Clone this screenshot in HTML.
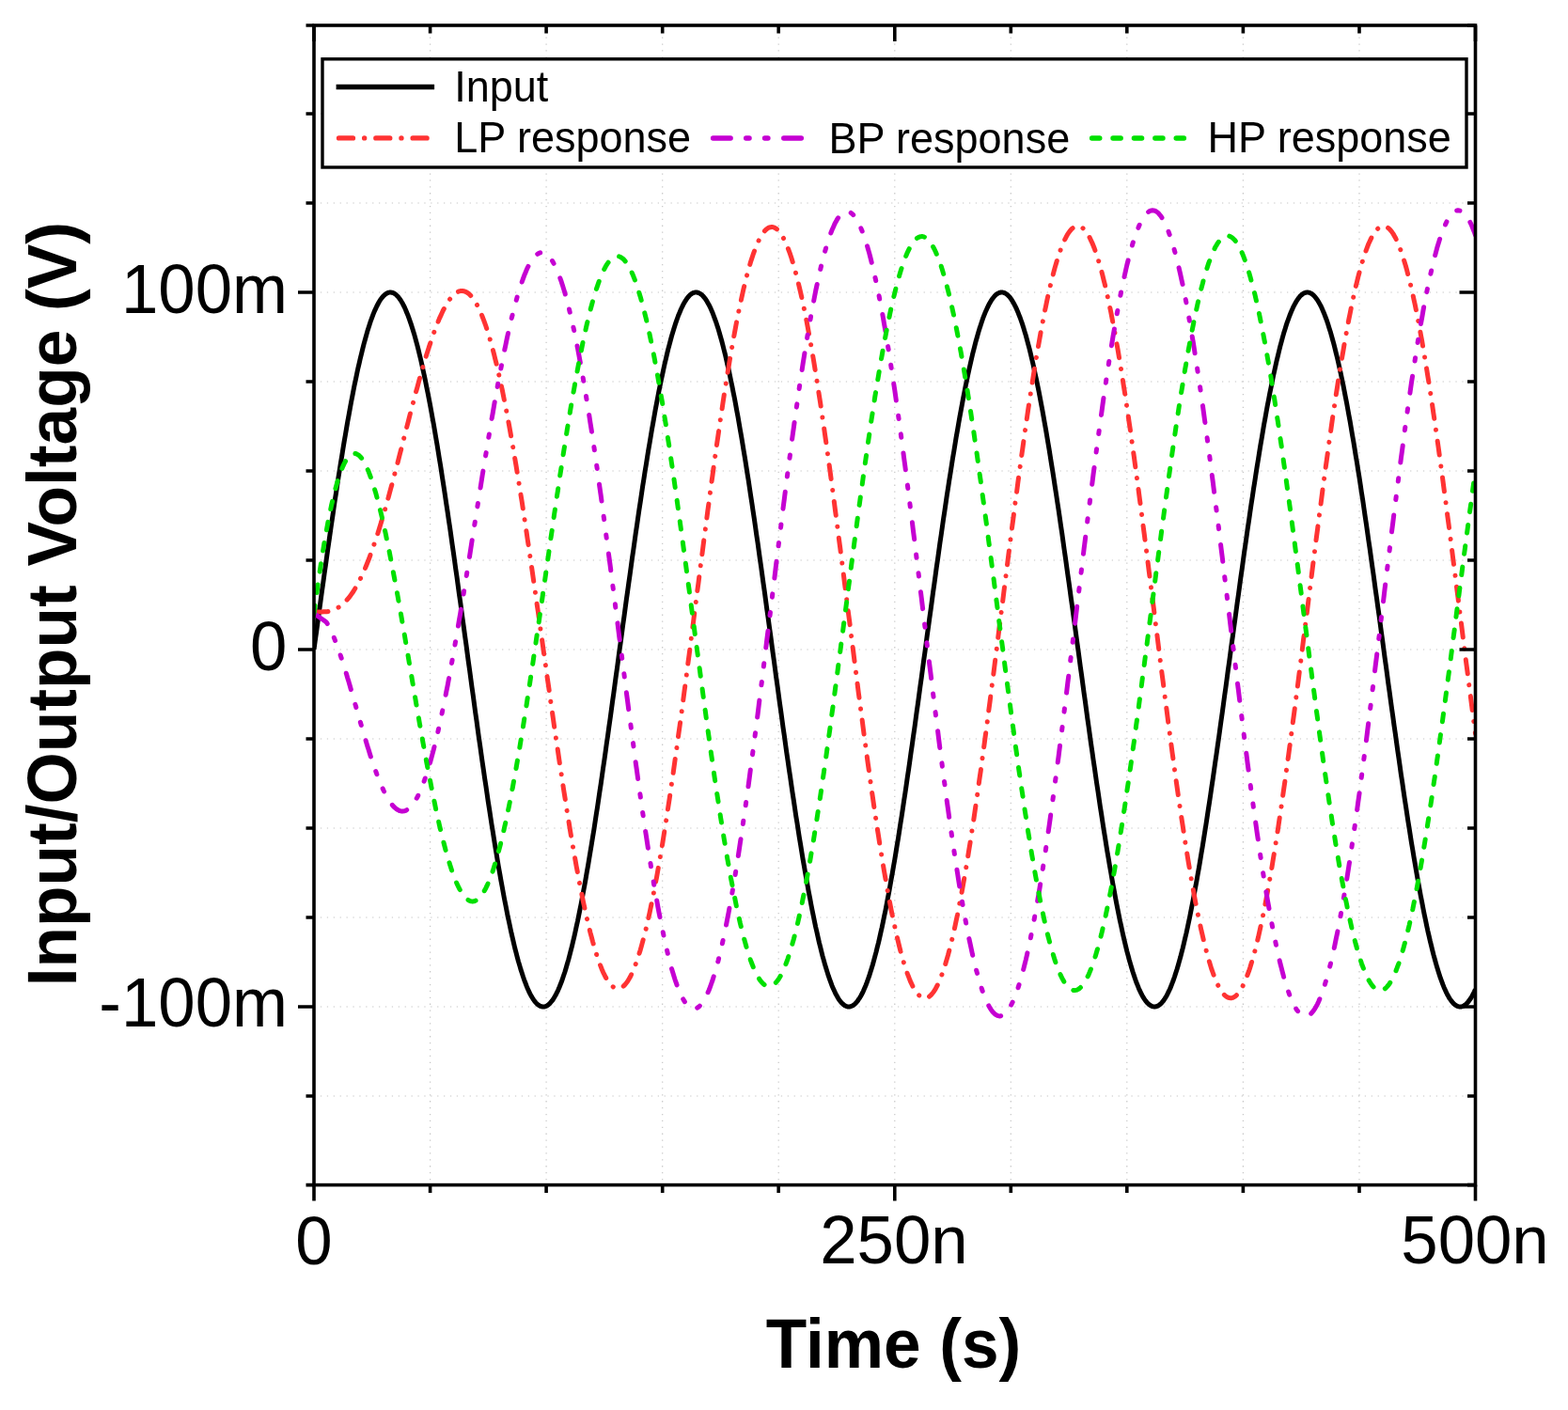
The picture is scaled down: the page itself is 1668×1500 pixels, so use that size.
<!DOCTYPE html>
<html><head><meta charset="utf-8"><style>html,body{margin:0;padding:0;background:#fff}svg{display:block}</style></head><body>
<svg width="1668" height="1500" viewBox="0 0 1668 1500">
<rect width="1668" height="1500" fill="#fff"/>
<defs><clipPath id="pc"><rect x="334.0" y="25.7" width="1235.5" height="1234.9"/></clipPath></defs>
<path d="M457.6 25.7V1260.6M581.1 25.7V1260.6M704.7 25.7V1260.6M828.2 25.7V1260.6M951.8 25.7V1260.6M1075.3 25.7V1260.6M1198.8 25.7V1260.6M1322.4 25.7V1260.6M1446.0 25.7V1260.6M334.0 1166.0H1569.5M334.0 1071.0H1569.5M334.0 976.0H1569.5M334.0 881.0H1569.5M334.0 786.0H1569.5M334.0 691.0H1569.5M334.0 596.0H1569.5M334.0 501.0H1569.5M334.0 406.0H1569.5M334.0 311.0H1569.5M334.0 216.0H1569.5M334.0 121.0H1569.5" stroke="#c6c6c6" stroke-width="1.2" stroke-dasharray="1.3 5.6" fill="none"/>
<g clip-path="url(#pc)" fill="none" stroke-width="5" stroke-linejoin="round">
<path d="M334.0,691.0 L335.2,681.9 L336.5,672.9 L337.7,663.8 L338.9,654.8 L340.2,645.7 L341.4,636.7 L342.6,627.8 L343.9,618.9 L345.1,610.0 L346.4,601.1 L347.6,592.3 L348.8,583.6 L350.1,574.9 L351.3,566.3 L352.5,557.8 L353.8,549.3 L355.0,541.0 L356.2,532.7 L357.5,524.5 L358.7,516.4 L359.9,508.4 L361.2,500.4 L362.4,492.7 L363.7,485.0 L364.9,477.4 L366.1,470.0 L367.4,462.6 L368.6,455.5 L369.8,448.4 L371.1,441.5 L372.3,434.7 L373.5,428.1 L374.8,421.6 L376.0,415.3 L377.2,409.1 L378.5,403.1 L379.7,397.3 L380.9,391.6 L382.2,386.1 L383.4,380.8 L384.7,375.6 L385.9,370.7 L387.1,365.9 L388.4,361.3 L389.6,356.9 L390.8,352.6 L392.1,348.6 L393.3,344.8 L394.5,341.1 L395.8,337.7 L397.0,334.4 L398.2,331.4 L399.5,328.6 L400.7,326.0 L402.0,323.5 L403.2,321.3 L404.4,319.3 L405.7,317.6 L406.9,316.0 L408.1,314.6 L409.4,313.5 L410.6,312.6 L411.8,311.8 L413.1,311.3 L414.3,311.1 L415.5,311.0 L416.8,311.2 L418.0,311.5 L419.2,312.1 L420.5,312.9 L421.7,313.9 L423.0,315.2 L424.2,316.6 L425.4,318.3 L426.7,320.2 L427.9,322.2 L429.1,324.5 L430.4,327.0 L431.6,329.7 L432.8,332.7 L434.1,335.8 L435.3,339.1 L436.5,342.6 L437.8,346.4 L439.0,350.3 L440.3,354.4 L441.5,358.7 L442.7,363.2 L444.0,367.9 L445.2,372.7 L446.4,377.8 L447.7,383.0 L448.9,388.4 L450.1,394.0 L451.4,399.7 L452.6,405.6 L453.8,411.7 L455.1,417.9 L456.3,424.3 L457.6,430.9 L458.8,437.6 L460.0,444.4 L461.3,451.4 L462.5,458.5 L463.7,465.7 L465.0,473.1 L466.2,480.6 L467.4,488.2 L468.7,495.9 L469.9,503.8 L471.1,511.7 L472.4,519.8 L473.6,527.9 L474.8,536.1 L476.1,544.5 L477.3,552.9 L478.6,561.4 L479.8,569.9 L481.0,578.6 L482.3,587.3 L483.5,596.0 L484.7,604.8 L486.0,613.7 L487.2,622.6 L488.4,631.6 L489.7,640.5 L490.9,649.5 L492.1,658.6 L493.4,667.6 L494.6,676.7 L495.9,685.7 L497.1,694.8 L498.3,703.9 L499.6,713.0 L500.8,722.0 L502.0,731.0 L503.3,740.0 L504.5,749.0 L505.7,758.0 L507.0,766.9 L508.2,775.8 L509.4,784.6 L510.7,793.3 L511.9,802.1 L513.1,810.7 L514.4,819.3 L515.6,827.8 L516.9,836.2 L518.1,844.5 L519.3,852.8 L520.6,861.0 L521.8,869.0 L523.0,877.0 L524.3,884.8 L525.5,892.6 L526.7,900.2 L528.0,907.7 L529.2,915.1 L530.4,922.4 L531.7,929.5 L532.9,936.5 L534.2,943.4 L535.4,950.1 L536.6,956.6 L537.9,963.1 L539.1,969.3 L540.3,975.4 L541.6,981.3 L542.8,987.1 L544.0,992.7 L545.3,998.1 L546.5,1003.4 L547.7,1008.5 L549.0,1013.4 L550.2,1018.1 L551.4,1022.6 L552.7,1026.9 L553.9,1031.1 L555.2,1035.0 L556.4,1038.8 L557.6,1042.3 L558.9,1045.7 L560.1,1048.9 L561.3,1051.8 L562.6,1054.6 L563.8,1057.1 L565.0,1059.4 L566.3,1061.5 L567.5,1063.4 L568.7,1065.1 L570.0,1066.6 L571.2,1067.9 L572.5,1068.9 L573.7,1069.8 L574.9,1070.4 L576.2,1070.8 L577.4,1071.0 L578.6,1071.0 L579.9,1070.7 L581.1,1070.3 L582.3,1069.6 L583.6,1068.7 L584.8,1067.6 L586.0,1066.2 L587.3,1064.7 L588.5,1063.0 L589.7,1061.0 L591.0,1058.8 L592.2,1056.4 L593.5,1053.8 L594.7,1051.1 L595.9,1048.0 L597.2,1044.8 L598.4,1041.4 L599.6,1037.8 L600.9,1034.0 L602.1,1030.0 L603.3,1025.8 L604.6,1021.4 L605.8,1016.9 L607.0,1012.1 L608.3,1007.2 L609.5,1002.0 L610.8,996.7 L612.0,991.3 L613.2,985.6 L614.5,979.8 L615.7,973.8 L616.9,967.7 L618.2,961.4 L619.4,954.9 L620.6,948.3 L621.9,941.6 L623.1,934.7 L624.3,927.7 L625.6,920.5 L626.8,913.2 L628.0,905.8 L629.3,898.2 L630.5,890.6 L631.8,882.8 L633.0,874.9 L634.2,866.9 L635.5,858.8 L636.7,850.6 L637.9,842.4 L639.2,834.0 L640.4,825.5 L641.6,817.0 L642.9,808.4 L644.1,799.8 L645.3,791.0 L646.6,782.3 L647.8,773.4 L649.1,764.5 L650.3,755.6 L651.5,746.7 L652.8,737.7 L654.0,728.7 L655.2,719.6 L656.5,710.6 L657.7,701.5 L658.9,692.4 L660.2,683.4 L661.4,674.3 L662.6,665.2 L663.9,656.2 L665.1,647.2 L666.3,638.2 L667.6,629.2 L668.8,620.3 L670.1,611.4 L671.3,602.5 L672.5,593.7 L673.8,585.0 L675.0,576.3 L676.2,567.7 L677.5,559.1 L678.7,550.7 L679.9,542.3 L681.2,534.0 L682.4,525.8 L683.6,517.6 L684.9,509.6 L686.1,501.7 L687.4,493.9 L688.6,486.2 L689.8,478.6 L691.1,471.1 L692.3,463.8 L693.5,456.6 L694.8,449.5 L696.0,442.6 L697.2,435.8 L698.5,429.1 L699.7,422.6 L700.9,416.3 L702.2,410.1 L703.4,404.1 L704.7,398.2 L705.9,392.5 L707.1,387.0 L708.4,381.6 L709.6,376.4 L710.8,371.4 L712.1,366.6 L713.3,362.0 L714.5,357.5 L715.8,353.3 L717.0,349.2 L718.2,345.4 L719.5,341.7 L720.7,338.2 L721.9,334.9 L723.2,331.9 L724.4,329.0 L725.7,326.4 L726.9,323.9 L728.1,321.7 L729.4,319.6 L730.6,317.8 L731.8,316.2 L733.1,314.8 L734.3,313.6 L735.5,312.7 L736.8,311.9 L738.0,311.4 L739.2,311.1 L740.5,311.0 L741.7,311.1 L743.0,311.5 L744.2,312.0 L745.4,312.8 L746.7,313.8 L747.9,315.0 L749.1,316.4 L750.4,318.0 L751.6,319.8 L752.8,321.9 L754.1,324.2 L755.3,326.6 L756.5,329.3 L757.8,332.2 L759.0,335.3 L760.2,338.6 L761.5,342.1 L762.7,345.8 L764.0,349.6 L765.2,353.7 L766.4,358.0 L767.7,362.5 L768.9,367.1 L770.1,372.0 L771.4,377.0 L772.6,382.2 L773.8,387.6 L775.1,393.1 L776.3,398.8 L777.5,404.7 L778.8,410.7 L780.0,417.0 L781.3,423.3 L782.5,429.8 L783.7,436.5 L785.0,443.3 L786.2,450.3 L787.4,457.3 L788.7,464.6 L789.9,471.9 L791.1,479.4 L792.4,487.0 L793.6,494.7 L794.8,502.5 L796.1,510.4 L797.3,518.5 L798.5,526.6 L799.8,534.8 L801.0,543.2 L802.3,551.6 L803.5,560.0 L804.7,568.6 L806.0,577.2 L807.2,585.9 L808.4,594.6 L809.7,603.5 L810.9,612.3 L812.1,621.2 L813.4,630.1 L814.6,639.1 L815.8,648.1 L817.1,657.1 L818.3,666.2 L819.6,675.2 L820.8,684.3 L822.0,693.4 L823.3,702.5 L824.5,711.5 L825.7,720.6 L827.0,729.6 L828.2,738.6 L829.4,747.6 L830.7,756.6 L831.9,765.5 L833.1,774.4 L834.4,783.2 L835.6,792.0 L836.8,800.7 L838.1,809.3 L839.3,817.9 L840.6,826.4 L841.8,834.9 L843.0,843.2 L844.3,851.5 L845.5,859.7 L846.7,867.8 L848.0,875.7 L849.2,883.6 L850.4,891.4 L851.7,899.0 L852.9,906.6 L854.1,914.0 L855.4,921.3 L856.6,928.4 L857.9,935.4 L859.1,942.3 L860.3,949.0 L861.6,955.6 L862.8,962.1 L864.0,968.3 L865.3,974.5 L866.5,980.4 L867.7,986.2 L869.0,991.8 L870.2,997.3 L871.4,1002.6 L872.7,1007.7 L873.9,1012.6 L875.1,1017.4 L876.4,1021.9 L877.6,1026.3 L878.9,1030.4 L880.1,1034.4 L881.3,1038.2 L882.6,1041.8 L883.8,1045.2 L885.0,1048.4 L886.3,1051.4 L887.5,1054.1 L888.7,1056.7 L890.0,1059.1 L891.2,1061.2 L892.4,1063.2 L893.7,1064.9 L894.9,1066.4 L896.2,1067.7 L897.4,1068.8 L898.6,1069.7 L899.9,1070.3 L901.1,1070.7 L902.3,1071.0 L903.6,1071.0 L904.8,1070.8 L906.0,1070.3 L907.3,1069.7 L908.5,1068.8 L909.7,1067.8 L911.0,1066.5 L912.2,1065.0 L913.4,1063.2 L914.7,1061.3 L915.9,1059.2 L917.2,1056.8 L918.4,1054.3 L919.6,1051.5 L920.9,1048.5 L922.1,1045.4 L923.3,1042.0 L924.6,1038.4 L925.8,1034.6 L927.0,1030.7 L928.3,1026.5 L929.5,1022.1 L930.7,1017.6 L932.0,1012.9 L933.2,1007.9 L934.5,1002.9 L935.7,997.6 L936.9,992.1 L938.2,986.5 L939.4,980.7 L940.6,974.8 L941.9,968.7 L943.1,962.4 L944.3,956.0 L945.6,949.4 L946.8,942.7 L948.0,935.8 L949.3,928.8 L950.5,921.6 L951.8,914.4 L953.0,907.0 L954.2,899.4 L955.5,891.8 L956.7,884.0 L957.9,876.2 L959.2,868.2 L960.4,860.1 L961.6,851.9 L962.9,843.7 L964.1,835.3 L965.3,826.9 L966.6,818.4 L967.8,809.8 L969.0,801.1 L970.3,792.4 L971.5,783.7 L972.8,774.8 L974.0,766.0 L975.2,757.0 L976.5,748.1 L977.7,739.1 L978.9,730.1 L980.2,721.1 L981.4,712.0 L982.6,702.9 L983.9,693.9 L985.1,684.8 L986.3,675.7 L987.6,666.7 L988.8,657.6 L990.1,648.6 L991.3,639.6 L992.5,630.6 L993.8,621.7 L995.0,612.8 L996.2,603.9 L997.5,595.1 L998.7,586.4 L999.9,577.7 L1001.2,569.0 L1002.4,560.5 L1003.6,552.0 L1004.9,543.6 L1006.1,535.3 L1007.3,527.0 L1008.6,518.9 L1009.8,510.9 L1011.1,502.9 L1012.3,495.1 L1013.5,487.4 L1014.8,479.8 L1016.0,472.3 L1017.2,464.9 L1018.5,457.7 L1019.7,450.6 L1020.9,443.7 L1022.2,436.8 L1023.4,430.2 L1024.6,423.7 L1025.9,417.3 L1027.1,411.1 L1028.4,405.0 L1029.6,399.1 L1030.8,393.4 L1032.1,387.8 L1033.3,382.5 L1034.5,377.2 L1035.8,372.2 L1037.0,367.4 L1038.2,362.7 L1039.5,358.2 L1040.7,353.9 L1041.9,349.9 L1043.2,346.0 L1044.4,342.3 L1045.6,338.7 L1046.9,335.4 L1048.1,332.3 L1049.4,329.5 L1050.6,326.8 L1051.8,324.3 L1053.1,322.0 L1054.3,319.9 L1055.5,318.1 L1056.8,316.5 L1058.0,315.0 L1059.2,313.8 L1060.5,312.8 L1061.7,312.0 L1062.9,311.5 L1064.2,311.1 L1065.4,311.0 L1066.7,311.1 L1067.9,311.4 L1069.1,311.9 L1070.4,312.6 L1071.6,313.6 L1072.8,314.8 L1074.1,316.1 L1075.3,317.7 L1076.5,319.5 L1077.8,321.6 L1079.0,323.8 L1080.2,326.2 L1081.5,328.9 L1082.7,331.7 L1083.9,334.8 L1085.2,338.0 L1086.4,341.5 L1087.7,345.2 L1088.9,349.0 L1090.1,353.1 L1091.4,357.3 L1092.6,361.8 L1093.8,366.4 L1095.1,371.2 L1096.3,376.2 L1097.5,381.3 L1098.8,386.7 L1100.0,392.2 L1101.2,397.9 L1102.5,403.8 L1103.7,409.8 L1105.0,416.0 L1106.2,422.3 L1107.4,428.8 L1108.7,435.4 L1109.9,442.2 L1111.1,449.1 L1112.4,456.2 L1113.6,463.4 L1114.8,470.7 L1116.1,478.2 L1117.3,485.8 L1118.5,493.5 L1119.8,501.3 L1121.0,509.2 L1122.2,517.2 L1123.5,525.3 L1124.7,533.5 L1126.0,541.8 L1127.2,550.2 L1128.4,558.7 L1129.7,567.2 L1130.9,575.8 L1132.1,584.5 L1133.4,593.3 L1134.6,602.1 L1135.8,610.9 L1137.1,619.8 L1138.3,628.7 L1139.5,637.7 L1140.8,646.7 L1142.0,655.7 L1143.3,664.8 L1144.5,673.8 L1145.7,682.9 L1147.0,692.0 L1148.2,701.0 L1149.4,710.1 L1150.7,719.1 L1151.9,728.2 L1153.1,737.2 L1154.4,746.2 L1155.6,755.2 L1156.8,764.1 L1158.1,773.0 L1159.3,781.8 L1160.5,790.6 L1161.8,799.3 L1163.0,808.0 L1164.3,816.6 L1165.5,825.1 L1166.7,833.5 L1168.0,841.9 L1169.2,850.2 L1170.4,858.4 L1171.7,866.5 L1172.9,874.5 L1174.1,882.4 L1175.4,890.2 L1176.6,897.8 L1177.8,905.4 L1179.1,912.8 L1180.3,920.1 L1181.6,927.3 L1182.8,934.3 L1184.0,941.2 L1185.3,948.0 L1186.5,954.6 L1187.7,961.0 L1189.0,967.4 L1190.2,973.5 L1191.4,979.5 L1192.7,985.3 L1193.9,991.0 L1195.1,996.4 L1196.4,1001.8 L1197.6,1006.9 L1198.8,1011.8 L1200.1,1016.6 L1201.3,1021.2 L1202.6,1025.6 L1203.8,1029.8 L1205.0,1033.8 L1206.3,1037.6 L1207.5,1041.2 L1208.7,1044.7 L1210.0,1047.9 L1211.2,1050.9 L1212.4,1053.7 L1213.7,1056.3 L1214.9,1058.7 L1216.1,1060.9 L1217.4,1062.9 L1218.6,1064.6 L1219.9,1066.2 L1221.1,1067.5 L1222.3,1068.6 L1223.6,1069.5 L1224.8,1070.2 L1226.0,1070.7 L1227.3,1070.9 L1228.5,1071.0 L1229.7,1070.8 L1231.0,1070.4 L1232.2,1069.8 L1233.4,1069.0 L1234.7,1067.9 L1235.9,1066.7 L1237.2,1065.2 L1238.4,1063.5 L1239.6,1061.6 L1240.9,1059.5 L1242.1,1057.2 L1243.3,1054.7 L1244.6,1052.0 L1245.8,1049.0 L1247.0,1045.9 L1248.3,1042.5 L1249.5,1039.0 L1250.7,1035.2 L1252.0,1031.3 L1253.2,1027.2 L1254.4,1022.8 L1255.7,1018.3 L1256.9,1013.6 L1258.2,1008.7 L1259.4,1003.7 L1260.6,998.4 L1261.9,993.0 L1263.1,987.4 L1264.3,981.7 L1265.6,975.7 L1266.8,969.6 L1268.0,963.4 L1269.3,957.0 L1270.5,950.4 L1271.7,943.7 L1273.0,936.9 L1274.2,929.9 L1275.5,922.8 L1276.7,915.5 L1277.9,908.1 L1279.2,900.6 L1280.4,893.0 L1281.6,885.3 L1282.9,877.4 L1284.1,869.4 L1285.3,861.4 L1286.6,853.2 L1287.8,845.0 L1289.0,836.6 L1290.3,828.2 L1291.5,819.7 L1292.7,811.1 L1294.0,802.5 L1295.2,793.8 L1296.5,785.0 L1297.7,776.2 L1298.9,767.4 L1300.2,758.4 L1301.4,749.5 L1302.6,740.5 L1303.9,731.5 L1305.1,722.5 L1306.3,713.4 L1307.6,704.4 L1308.8,695.3 L1310.0,686.2 L1311.3,677.2 L1312.5,668.1 L1313.8,659.0 L1315.0,650.0 L1316.2,641.0 L1317.5,632.0 L1318.7,623.1 L1319.9,614.2 L1321.2,605.3 L1322.4,596.5 L1323.6,587.7 L1324.9,579.0 L1326.1,570.4 L1327.3,561.8 L1328.6,553.3 L1329.8,544.9 L1331.0,536.6 L1332.3,528.3 L1333.5,520.2 L1334.8,512.1 L1336.0,504.2 L1337.2,496.3 L1338.5,488.6 L1339.7,481.0 L1340.9,473.5 L1342.2,466.1 L1343.4,458.9 L1344.6,451.7 L1345.9,444.8 L1347.1,437.9 L1348.3,431.2 L1349.6,424.7 L1350.8,418.3 L1352.1,412.0 L1353.3,406.0 L1354.5,400.0 L1355.8,394.3 L1357.0,388.7 L1358.2,383.3 L1359.5,378.1 L1360.7,373.0 L1361.9,368.1 L1363.2,363.4 L1364.4,358.9 L1365.6,354.6 L1366.9,350.5 L1368.1,346.6 L1369.3,342.8 L1370.6,339.3 L1371.8,336.0 L1373.1,332.8 L1374.3,329.9 L1375.5,327.2 L1376.8,324.7 L1378.0,322.4 L1379.2,320.3 L1380.5,318.4 L1381.7,316.7 L1382.9,315.2 L1384.2,314.0 L1385.4,313.0 L1386.6,312.2 L1387.9,311.6 L1389.1,311.2 L1390.4,311.0 L1391.6,311.1 L1392.8,311.3 L1394.1,311.8 L1395.3,312.5 L1396.5,313.4 L1397.8,314.6 L1399.0,315.9 L1400.2,317.5 L1401.5,319.2 L1402.7,321.2 L1403.9,323.4 L1405.2,325.8 L1406.4,328.4 L1407.6,331.3 L1408.9,334.3 L1410.1,337.5 L1411.4,340.9 L1412.6,344.6 L1413.8,348.4 L1415.1,352.4 L1416.3,356.6 L1417.5,361.0 L1418.8,365.6 L1420.0,370.4 L1421.2,375.4 L1422.5,380.5 L1423.7,385.8 L1424.9,391.3 L1426.2,397.0 L1427.4,402.8 L1428.7,408.8 L1429.9,415.0 L1431.1,421.3 L1432.4,427.8 L1433.6,434.4 L1434.8,441.1 L1436.1,448.0 L1437.3,455.1 L1438.5,462.3 L1439.8,469.6 L1441.0,477.0 L1442.2,484.6 L1443.5,492.2 L1444.7,500.0 L1446.0,507.9 L1447.2,515.9 L1448.4,524.0 L1449.7,532.2 L1450.9,540.5 L1452.1,548.9 L1453.4,557.3 L1454.6,565.9 L1455.8,574.5 L1457.1,583.2 L1458.3,591.9 L1459.5,600.7 L1460.8,609.5 L1462.0,618.4 L1463.2,627.3 L1464.5,636.3 L1465.7,645.3 L1467.0,654.3 L1468.2,663.3 L1469.4,672.4 L1470.7,681.5 L1471.9,690.5 L1473.1,699.6 L1474.4,708.7 L1475.6,717.7 L1476.8,726.8 L1478.1,735.8 L1479.3,744.8 L1480.5,753.7 L1481.8,762.7 L1483.0,771.6 L1484.3,780.4 L1485.5,789.2 L1486.7,797.9 L1488.0,806.6 L1489.2,815.2 L1490.4,823.8 L1491.7,832.2 L1492.9,840.6 L1494.1,848.9 L1495.4,857.1 L1496.6,865.2 L1497.8,873.2 L1499.1,881.1 L1500.3,888.9 L1501.5,896.6 L1502.8,904.2 L1504.0,911.6 L1505.3,919.0 L1506.5,926.2 L1507.7,933.2 L1509.0,940.1 L1510.2,946.9 L1511.4,953.6 L1512.7,960.0 L1513.9,966.4 L1515.1,972.5 L1516.4,978.6 L1517.6,984.4 L1518.8,990.1 L1520.1,995.6 L1521.3,1000.9 L1522.6,1006.1 L1523.8,1011.1 L1525.0,1015.9 L1526.3,1020.5 L1527.5,1024.9 L1528.7,1029.1 L1530.0,1033.2 L1531.2,1037.0 L1532.4,1040.7 L1533.7,1044.1 L1534.9,1047.4 L1536.1,1050.4 L1537.4,1053.3 L1538.6,1055.9 L1539.8,1058.3 L1541.1,1060.6 L1542.3,1062.6 L1543.6,1064.4 L1544.8,1065.9 L1546.0,1067.3 L1547.3,1068.5 L1548.5,1069.4 L1549.7,1070.1 L1551.0,1070.6 L1552.2,1070.9 L1553.4,1071.0 L1554.7,1070.9 L1555.9,1070.5 L1557.1,1069.9 L1558.4,1069.1 L1559.6,1068.1 L1560.9,1066.9 L1562.1,1065.5 L1563.3,1063.8 L1564.6,1062.0 L1565.8,1059.9 L1567.0,1057.6 L1568.3,1055.1 L1569.5,1052.4" stroke="#000"/>
<path d="M334.0,651.2 L335.2,651.1 L336.5,651.1 L337.7,651.0 L338.9,651.0 L340.2,650.9 L341.4,650.9 L342.6,650.9 L343.9,650.8 L345.1,650.8 L346.4,650.7 L347.6,650.7 L348.8,650.5 L350.1,650.2 L351.3,649.9 L352.5,649.6 L353.8,649.2 L355.0,648.7 L356.2,648.2 L357.5,647.6 L358.7,647.0 L359.9,646.2 L361.2,645.4 L362.4,644.5 L363.7,643.6 L364.9,642.5 L366.1,641.4 L367.4,640.1 L368.6,638.8 L369.8,637.4 L371.1,635.9 L372.3,634.3 L373.5,632.6 L374.8,630.8 L376.0,629.0 L377.2,627.0 L378.5,624.9 L379.7,622.7 L380.9,620.4 L382.2,618.1 L383.4,615.6 L384.7,613.0 L385.9,610.3 L387.1,607.6 L388.4,604.7 L389.6,601.7 L390.8,598.7 L392.1,595.5 L393.3,592.3 L394.5,588.9 L395.8,585.5 L397.0,582.0 L398.2,578.4 L399.5,574.7 L400.7,571.0 L402.0,567.1 L403.2,563.2 L404.4,559.2 L405.7,555.1 L406.9,551.0 L408.1,546.8 L409.4,542.5 L410.6,538.2 L411.8,533.8 L413.1,529.4 L414.3,524.9 L415.5,520.4 L416.8,515.8 L418.0,511.2 L419.2,506.5 L420.5,501.8 L421.7,497.1 L423.0,492.4 L424.2,487.6 L425.4,482.8 L426.7,478.0 L427.9,473.2 L429.1,468.4 L430.4,463.6 L431.6,458.8 L432.8,454.0 L434.1,449.2 L435.3,444.4 L436.5,439.6 L437.8,434.9 L439.0,430.2 L440.3,425.5 L441.5,420.8 L442.7,416.2 L444.0,411.7 L445.2,407.2 L446.4,402.7 L447.7,398.3 L448.9,394.0 L450.1,389.7 L451.4,385.5 L452.6,381.3 L453.8,377.3 L455.1,373.3 L456.3,369.4 L457.6,365.6 L458.8,361.9 L460.0,358.3 L461.3,354.8 L462.5,351.4 L463.7,348.1 L465.0,344.9 L466.2,341.9 L467.4,338.9 L468.7,336.1 L469.9,333.4 L471.1,330.8 L472.4,328.4 L473.6,326.1 L474.8,323.9 L476.1,321.9 L477.3,320.0 L478.6,318.3 L479.8,316.7 L481.0,315.2 L482.3,314.0 L483.5,312.8 L484.7,311.9 L486.0,311.1 L487.2,310.4 L488.4,309.9 L489.7,309.6 L490.9,309.5 L492.1,309.5 L493.4,309.7 L494.6,310.1 L495.9,310.6 L497.1,311.4 L498.3,312.2 L499.6,313.3 L500.8,314.6 L502.0,316.0 L503.3,317.6 L504.5,319.4 L505.7,321.3 L507.0,323.5 L508.2,325.8 L509.4,328.3 L510.7,331.0 L511.9,333.8 L513.1,336.8 L514.4,340.1 L515.6,343.4 L516.9,347.0 L518.1,350.7 L519.3,354.6 L520.6,358.7 L521.8,363.0 L523.0,367.4 L524.3,372.0 L525.5,376.7 L526.7,381.6 L528.0,386.7 L529.2,391.9 L530.4,397.3 L531.7,402.8 L532.9,408.5 L534.2,414.4 L535.4,420.4 L536.6,426.5 L537.9,432.8 L539.1,439.2 L540.3,445.8 L541.6,452.5 L542.8,459.3 L544.0,466.2 L545.3,473.3 L546.5,480.5 L547.7,487.7 L549.0,495.2 L550.2,502.7 L551.4,510.3 L552.7,518.0 L553.9,525.8 L555.2,533.7 L556.4,541.7 L557.6,549.8 L558.9,557.9 L560.1,566.2 L561.3,574.5 L562.6,582.8 L563.8,591.2 L565.0,599.7 L566.3,608.3 L567.5,616.8 L568.7,625.4 L570.0,634.1 L571.2,642.8 L572.5,651.5 L573.7,660.2 L574.9,669.0 L576.2,677.8 L577.4,686.5 L578.6,695.3 L579.9,704.1 L581.1,712.9 L582.3,721.6 L583.6,730.3 L584.8,739.1 L586.0,747.8 L587.3,756.4 L588.5,765.0 L589.7,773.6 L591.0,782.1 L592.2,790.6 L593.5,799.0 L594.7,807.4 L595.9,815.6 L597.2,823.9 L598.4,832.0 L599.6,840.0 L600.9,848.0 L602.1,855.9 L603.3,863.7 L604.6,871.3 L605.8,878.9 L607.0,886.4 L608.3,893.7 L609.5,900.9 L610.8,908.0 L612.0,915.0 L613.2,921.9 L614.5,928.6 L615.7,935.1 L616.9,941.6 L618.2,947.8 L619.4,954.0 L620.6,959.9 L621.9,965.7 L623.1,971.4 L624.3,976.9 L625.6,982.2 L626.8,987.3 L628.0,992.3 L629.3,997.0 L630.5,1001.6 L631.8,1006.0 L633.0,1010.3 L634.2,1014.3 L635.5,1018.1 L636.7,1021.8 L637.9,1025.2 L639.2,1028.4 L640.4,1031.5 L641.6,1034.3 L642.9,1036.9 L644.1,1039.3 L645.3,1041.5 L646.6,1043.5 L647.8,1045.3 L649.1,1046.9 L650.3,1048.2 L651.5,1049.3 L652.8,1050.2 L654.0,1050.9 L655.2,1051.4 L656.5,1051.7 L657.7,1051.7 L658.9,1051.5 L660.2,1051.1 L661.4,1050.4 L662.6,1049.6 L663.9,1048.5 L665.1,1047.2 L666.3,1045.7 L667.6,1044.0 L668.8,1042.0 L670.1,1039.8 L671.3,1037.4 L672.5,1034.8 L673.8,1032.0 L675.0,1029.0 L676.2,1025.7 L677.5,1022.3 L678.7,1018.6 L679.9,1014.7 L681.2,1010.7 L682.4,1006.4 L683.6,1001.9 L684.9,997.2 L686.1,992.3 L687.4,987.3 L688.6,982.0 L689.8,976.6 L691.1,970.9 L692.3,965.1 L693.5,959.1 L694.8,953.0 L696.0,946.6 L697.2,940.1 L698.5,933.4 L699.7,926.6 L700.9,919.6 L702.2,912.5 L703.4,905.2 L704.7,897.7 L705.9,890.1 L707.1,882.4 L708.4,874.6 L709.6,866.6 L710.8,858.5 L712.1,850.2 L713.3,841.9 L714.5,833.4 L715.8,824.9 L717.0,816.2 L718.2,807.5 L719.5,798.6 L720.7,789.7 L721.9,780.6 L723.2,771.5 L724.4,762.4 L725.7,753.1 L726.9,743.8 L728.1,734.5 L729.4,725.1 L730.6,715.6 L731.8,706.1 L733.1,696.6 L734.3,687.1 L735.5,677.5 L736.8,667.9 L738.0,658.3 L739.2,648.7 L740.5,639.0 L741.7,629.4 L743.0,619.8 L744.2,610.2 L745.4,600.6 L746.7,591.1 L747.9,581.6 L749.1,572.1 L750.4,562.6 L751.6,553.2 L752.8,543.9 L754.1,534.6 L755.3,525.4 L756.5,516.2 L757.8,507.1 L759.0,498.1 L760.2,489.2 L761.5,480.3 L762.7,471.6 L764.0,462.9 L765.2,454.4 L766.4,446.0 L767.7,437.6 L768.9,429.4 L770.1,421.3 L771.4,413.4 L772.6,405.6 L773.8,397.9 L775.1,390.3 L776.3,382.9 L777.5,375.7 L778.8,368.6 L780.0,361.6 L781.3,354.8 L782.5,348.2 L783.7,341.8 L785.0,335.5 L786.2,329.4 L787.4,323.5 L788.7,317.8 L789.9,312.2 L791.1,306.8 L792.4,301.7 L793.6,296.7 L794.8,291.9 L796.1,287.4 L797.3,283.0 L798.5,278.8 L799.8,274.9 L801.0,271.2 L802.3,267.6 L803.5,264.3 L804.7,261.2 L806.0,258.4 L807.2,255.7 L808.4,253.3 L809.7,251.1 L810.9,249.1 L812.1,247.4 L813.4,245.8 L814.6,244.5 L815.8,243.5 L817.1,242.6 L818.3,242.0 L819.6,241.7 L820.8,241.5 L822.0,241.6 L823.3,241.9 L824.5,242.5 L825.7,243.3 L827.0,244.3 L828.2,245.5 L829.4,247.0 L830.7,248.7 L831.9,250.6 L833.1,252.8 L834.4,255.2 L835.6,257.8 L836.8,260.6 L838.1,263.7 L839.3,266.9 L840.6,270.4 L841.8,274.1 L843.0,278.0 L844.3,282.2 L845.5,286.5 L846.7,291.1 L848.0,295.8 L849.2,300.8 L850.4,305.9 L851.7,311.3 L852.9,316.8 L854.1,322.5 L855.4,328.5 L856.6,334.6 L857.9,340.8 L859.1,347.3 L860.3,353.9 L861.6,360.7 L862.8,367.7 L864.0,374.8 L865.3,382.1 L866.5,389.5 L867.7,397.1 L869.0,404.9 L870.2,412.7 L871.4,420.7 L872.7,428.9 L873.9,437.1 L875.1,445.5 L876.4,454.0 L877.6,462.6 L878.9,471.4 L880.1,480.2 L881.3,489.1 L882.6,498.1 L883.8,507.2 L885.0,516.4 L886.3,525.7 L887.5,535.0 L888.7,544.4 L890.0,553.9 L891.2,563.4 L892.4,573.0 L893.7,582.6 L894.9,592.2 L896.2,601.9 L897.4,611.6 L898.6,621.4 L899.9,631.1 L901.1,640.9 L902.3,650.7 L903.6,660.4 L904.8,670.2 L906.0,680.0 L907.3,689.7 L908.5,699.4 L909.7,709.1 L911.0,718.8 L912.2,728.4 L913.4,738.0 L914.7,747.5 L915.9,757.0 L917.2,766.4 L918.4,775.8 L919.6,785.1 L920.9,794.3 L922.1,803.4 L923.3,812.4 L924.6,821.4 L925.8,830.3 L927.0,839.0 L928.3,847.7 L929.5,856.2 L930.7,864.6 L932.0,872.9 L933.2,881.1 L934.5,889.1 L935.7,897.0 L936.9,904.8 L938.2,912.4 L939.4,919.9 L940.6,927.2 L941.9,934.4 L943.1,941.4 L944.3,948.2 L945.6,954.9 L946.8,961.4 L948.0,967.7 L949.3,973.9 L950.5,979.8 L951.8,985.6 L953.0,991.2 L954.2,996.6 L955.5,1001.8 L956.7,1006.8 L957.9,1011.6 L959.2,1016.1 L960.4,1020.5 L961.6,1024.7 L962.9,1028.7 L964.1,1032.4 L965.3,1035.9 L966.6,1039.2 L967.8,1042.3 L969.0,1045.2 L970.3,1047.8 L971.5,1050.3 L972.8,1052.4 L974.0,1054.4 L975.2,1056.1 L976.5,1057.6 L977.7,1058.9 L978.9,1060.0 L980.2,1060.8 L981.4,1061.3 L982.6,1061.7 L983.9,1061.8 L985.1,1061.7 L986.3,1061.3 L987.6,1060.7 L988.8,1059.9 L990.1,1058.8 L991.3,1057.5 L992.5,1056.0 L993.8,1054.2 L995.0,1052.3 L996.2,1050.0 L997.5,1047.6 L998.7,1044.9 L999.9,1042.1 L1001.2,1038.9 L1002.4,1035.6 L1003.6,1032.1 L1004.9,1028.3 L1006.1,1024.3 L1007.3,1020.1 L1008.6,1015.7 L1009.8,1011.1 L1011.1,1006.3 L1012.3,1001.3 L1013.5,996.1 L1014.8,990.6 L1016.0,985.0 L1017.2,979.2 L1018.5,973.3 L1019.7,967.1 L1020.9,960.7 L1022.2,954.2 L1023.4,947.5 L1024.6,940.7 L1025.9,933.6 L1027.1,926.4 L1028.4,919.1 L1029.6,911.6 L1030.8,903.9 L1032.1,896.1 L1033.3,888.2 L1034.5,880.1 L1035.8,872.0 L1037.0,863.6 L1038.2,855.2 L1039.5,846.6 L1040.7,837.9 L1041.9,829.2 L1043.2,820.3 L1044.4,811.3 L1045.6,802.2 L1046.9,793.1 L1048.1,783.9 L1049.4,774.5 L1050.6,765.2 L1051.8,755.7 L1053.1,746.2 L1054.3,736.7 L1055.5,727.0 L1056.8,717.4 L1058.0,707.7 L1059.2,698.0 L1060.5,688.2 L1061.7,678.5 L1062.9,668.7 L1064.2,658.9 L1065.4,649.1 L1066.7,639.3 L1067.9,629.5 L1069.1,619.7 L1070.4,610.0 L1071.6,600.2 L1072.8,590.5 L1074.1,580.8 L1075.3,571.2 L1076.5,561.6 L1077.8,552.1 L1079.0,542.6 L1080.2,533.2 L1081.5,523.8 L1082.7,514.5 L1083.9,505.3 L1085.2,496.2 L1086.4,487.2 L1087.7,478.2 L1088.9,469.4 L1090.1,460.7 L1091.4,452.0 L1092.6,443.5 L1093.8,435.1 L1095.1,426.8 L1096.3,418.7 L1097.5,410.7 L1098.8,402.8 L1100.0,395.1 L1101.2,387.5 L1102.5,380.0 L1103.7,372.8 L1105.0,365.6 L1106.2,358.7 L1107.4,351.9 L1108.7,345.2 L1109.9,338.8 L1111.1,332.5 L1112.4,326.4 L1113.6,320.5 L1114.8,314.8 L1116.1,309.3 L1117.3,303.9 L1118.5,298.8 L1119.8,293.9 L1121.0,289.1 L1122.2,284.6 L1123.5,280.3 L1124.7,276.2 L1126.0,272.3 L1127.2,268.6 L1128.4,265.2 L1129.7,261.9 L1130.9,258.9 L1132.1,256.1 L1133.4,253.6 L1134.6,251.2 L1135.8,249.1 L1137.1,247.2 L1138.3,245.6 L1139.5,244.1 L1140.8,242.9 L1142.0,242.0 L1143.3,241.3 L1144.5,240.8 L1145.7,240.5 L1147.0,240.5 L1148.2,240.7 L1149.4,241.1 L1150.7,241.8 L1151.9,242.7 L1153.1,243.9 L1154.4,245.2 L1155.6,246.9 L1156.8,248.7 L1158.1,250.8 L1159.3,253.0 L1160.5,255.6 L1161.8,258.3 L1163.0,261.3 L1164.3,264.5 L1165.5,267.9 L1166.7,271.5 L1168.0,275.4 L1169.2,279.4 L1170.4,283.7 L1171.7,288.2 L1172.9,292.9 L1174.1,297.8 L1175.4,302.9 L1176.6,308.2 L1177.8,313.6 L1179.1,319.3 L1180.3,325.2 L1181.6,331.3 L1182.8,337.5 L1184.0,343.9 L1185.3,350.5 L1186.5,357.3 L1187.7,364.2 L1189.0,371.3 L1190.2,378.5 L1191.4,386.0 L1192.7,393.5 L1193.9,401.2 L1195.1,409.1 L1196.4,417.1 L1197.6,425.2 L1198.8,433.4 L1200.1,441.8 L1201.3,450.3 L1202.6,458.9 L1203.8,467.6 L1205.0,476.4 L1206.3,485.4 L1207.5,494.4 L1208.7,503.5 L1210.0,512.7 L1211.2,521.9 L1212.4,531.3 L1213.7,540.7 L1214.9,550.2 L1216.1,559.7 L1217.4,569.3 L1218.6,578.9 L1219.9,588.6 L1221.1,598.3 L1222.3,608.0 L1223.6,617.8 L1224.8,627.6 L1226.0,637.4 L1227.3,647.2 L1228.5,657.0 L1229.7,666.8 L1231.0,676.5 L1232.2,686.3 L1233.4,696.1 L1234.7,705.8 L1235.9,715.5 L1237.2,725.2 L1238.4,734.8 L1239.6,744.4 L1240.9,753.9 L1242.1,763.3 L1243.3,772.7 L1244.6,782.1 L1245.8,791.3 L1247.0,800.5 L1248.3,809.6 L1249.5,818.6 L1250.7,827.5 L1252.0,836.3 L1253.2,845.0 L1254.4,853.6 L1255.7,862.0 L1256.9,870.4 L1258.2,878.6 L1259.4,886.7 L1260.6,894.7 L1261.9,902.5 L1263.1,910.2 L1264.3,917.7 L1265.6,925.1 L1266.8,932.3 L1268.0,939.4 L1269.3,946.3 L1270.5,953.0 L1271.7,959.6 L1273.0,966.0 L1274.2,972.2 L1275.5,978.2 L1276.7,984.0 L1277.9,989.7 L1279.2,995.1 L1280.4,1000.4 L1281.6,1005.4 L1282.9,1010.3 L1284.1,1014.9 L1285.3,1019.4 L1286.6,1023.6 L1287.8,1027.6 L1289.0,1031.4 L1290.3,1035.0 L1291.5,1038.4 L1292.7,1041.5 L1294.0,1044.5 L1295.2,1047.2 L1296.5,1049.6 L1297.7,1051.9 L1298.9,1053.9 L1300.2,1055.7 L1301.4,1057.3 L1302.6,1058.6 L1303.9,1059.7 L1305.1,1060.6 L1306.3,1061.2 L1307.6,1061.6 L1308.8,1061.7 L1310.0,1061.7 L1311.3,1061.4 L1312.5,1060.8 L1313.8,1060.1 L1315.0,1059.1 L1316.2,1057.8 L1317.5,1056.3 L1318.7,1054.6 L1319.9,1052.7 L1321.2,1050.6 L1322.4,1048.2 L1323.6,1045.6 L1324.9,1042.7 L1326.1,1039.7 L1327.3,1036.4 L1328.6,1032.9 L1329.8,1029.2 L1331.0,1025.2 L1332.3,1021.1 L1333.5,1016.7 L1334.8,1012.1 L1336.0,1007.4 L1337.2,1002.4 L1338.5,997.2 L1339.7,991.8 L1340.9,986.3 L1342.2,980.5 L1343.4,974.6 L1344.6,968.4 L1345.9,962.1 L1347.1,955.6 L1348.3,949.0 L1349.6,942.1 L1350.8,935.1 L1352.1,928.0 L1353.3,920.7 L1354.5,913.2 L1355.8,905.6 L1357.0,897.8 L1358.2,889.9 L1359.5,881.9 L1360.7,873.7 L1361.9,865.4 L1363.2,857.0 L1364.4,848.4 L1365.6,839.8 L1366.9,831.0 L1368.1,822.1 L1369.3,813.2 L1370.6,804.1 L1371.8,795.0 L1373.1,785.8 L1374.3,776.5 L1375.5,767.1 L1376.8,757.7 L1378.0,748.2 L1379.2,738.6 L1380.5,729.0 L1381.7,719.4 L1382.9,709.7 L1384.2,699.9 L1385.4,690.2 L1386.6,680.4 L1387.9,670.6 L1389.1,660.8 L1390.4,651.0 L1391.6,641.2 L1392.8,631.4 L1394.1,621.7 L1395.3,611.9 L1396.5,602.1 L1397.8,592.4 L1399.0,582.7 L1400.2,573.1 L1401.5,563.5 L1402.7,553.9 L1403.9,544.4 L1405.2,535.0 L1406.4,525.6 L1407.6,516.3 L1408.9,507.1 L1410.1,498.0 L1411.4,488.9 L1412.6,480.0 L1413.8,471.1 L1415.1,462.3 L1416.3,453.7 L1417.5,445.2 L1418.8,436.7 L1420.0,428.4 L1421.2,420.3 L1422.5,412.2 L1423.7,404.3 L1424.9,396.6 L1426.2,388.9 L1427.4,381.5 L1428.7,374.2 L1429.9,367.0 L1431.1,360.0 L1432.4,353.2 L1433.6,346.5 L1434.8,340.0 L1436.1,333.7 L1437.3,327.6 L1438.5,321.6 L1439.8,315.9 L1441.0,310.3 L1442.2,305.0 L1443.5,299.8 L1444.7,294.8 L1446.0,290.0 L1447.2,285.5 L1448.4,281.1 L1449.7,277.0 L1450.9,273.0 L1452.1,269.3 L1453.4,265.8 L1454.6,262.6 L1455.8,259.5 L1457.1,256.7 L1458.3,254.1 L1459.5,251.7 L1460.8,249.5 L1462.0,247.6 L1463.2,245.9 L1464.5,244.4 L1465.7,243.2 L1467.0,242.2 L1468.2,241.4 L1469.4,240.9 L1470.7,240.6 L1471.9,240.5 L1473.1,240.7 L1474.4,241.1 L1475.6,241.7 L1476.8,242.6 L1478.1,243.7 L1479.3,245.0 L1480.5,246.6 L1481.8,248.4 L1483.0,250.4 L1484.3,252.7 L1485.5,255.2 L1486.7,257.9 L1488.0,260.8 L1489.2,264.0 L1490.4,267.3 L1491.7,270.9 L1492.9,274.7 L1494.1,278.8 L1495.4,283.0 L1496.6,287.4 L1497.8,292.1 L1499.1,297.0 L1500.3,302.0 L1501.5,307.3 L1502.8,312.7 L1504.0,318.4 L1505.3,324.2 L1506.5,330.2 L1507.7,336.5 L1509.0,342.8 L1510.2,349.4 L1511.4,356.1 L1512.7,363.0 L1513.9,370.1 L1515.1,377.3 L1516.4,384.7 L1517.6,392.3 L1518.8,399.9 L1520.1,407.8 L1521.3,415.7 L1522.6,423.8 L1523.8,432.1 L1525.0,440.4 L1526.3,448.9 L1527.5,457.5 L1528.7,466.2 L1530.0,475.0 L1531.2,483.9 L1532.4,492.9 L1533.7,502.0 L1534.9,511.1 L1536.1,520.4 L1537.4,529.7 L1538.6,539.1 L1539.8,548.6 L1541.1,558.1 L1542.3,567.7 L1543.6,577.3 L1544.8,587.0 L1546.0,596.7 L1547.3,606.4 L1548.5,616.2 L1549.7,625.9 L1551.0,635.7 L1552.2,645.5 L1553.4,655.3 L1554.7,665.1 L1555.9,674.9 L1557.1,684.7 L1558.4,694.5 L1559.6,704.2 L1560.9,713.9 L1562.1,723.6 L1563.3,733.2 L1564.6,742.8 L1565.8,752.3 L1567.0,761.8 L1568.3,771.2 L1569.5,780.5" stroke="#ff3333" stroke-linecap="round" stroke-dasharray="15 12 0.1 12"/>
<path d="M334.0,652.7 L335.2,653.5 L336.5,654.4 L337.7,655.2 L338.9,656.1 L340.2,656.9 L341.4,657.8 L342.6,658.6 L343.9,659.5 L345.1,660.3 L346.4,661.2 L347.6,662.5 L348.8,664.6 L350.1,666.9 L351.3,669.3 L352.5,671.9 L353.8,674.7 L355.0,677.6 L356.2,680.7 L357.5,683.9 L358.7,687.2 L359.9,690.6 L361.2,694.2 L362.4,697.8 L363.7,701.6 L364.9,705.4 L366.1,709.3 L367.4,713.3 L368.6,717.3 L369.8,721.5 L371.1,725.6 L372.3,729.8 L373.5,734.1 L374.8,738.4 L376.0,742.7 L377.2,747.0 L378.5,751.3 L379.7,755.6 L380.9,760.0 L382.2,764.3 L383.4,768.6 L384.7,772.8 L385.9,777.1 L387.1,781.3 L388.4,785.4 L389.6,789.5 L390.8,793.6 L392.1,797.5 L393.3,801.5 L394.5,805.3 L395.8,809.1 L397.0,812.7 L398.2,816.3 L399.5,819.8 L400.7,823.2 L402.0,826.4 L403.2,829.6 L404.4,832.6 L405.7,835.6 L406.9,838.4 L408.1,841.0 L409.4,843.6 L410.6,845.9 L411.8,848.2 L413.1,850.3 L414.3,852.2 L415.5,854.0 L416.8,855.7 L418.0,857.2 L419.2,858.5 L420.5,859.6 L421.7,860.6 L423.0,861.5 L424.2,862.1 L425.4,862.6 L426.7,862.9 L427.9,863.0 L429.1,862.9 L430.4,862.7 L431.6,862.3 L432.8,861.6 L434.1,860.9 L435.3,859.9 L436.5,858.7 L437.8,857.4 L439.0,855.8 L440.3,854.1 L441.5,852.2 L442.7,850.1 L444.0,847.9 L445.2,845.4 L446.4,842.8 L447.7,839.9 L448.9,836.9 L450.1,833.8 L451.4,830.4 L452.6,826.9 L453.8,823.2 L455.1,819.3 L456.3,815.2 L457.6,811.0 L458.8,806.6 L460.0,802.1 L461.3,797.3 L462.5,792.5 L463.7,787.5 L465.0,782.3 L466.2,777.0 L467.4,771.5 L468.7,765.9 L469.9,760.1 L471.1,754.2 L472.4,748.2 L473.6,742.1 L474.8,735.8 L476.1,729.4 L477.3,722.9 L478.6,716.3 L479.8,709.6 L481.0,702.8 L482.3,695.9 L483.5,688.8 L484.7,681.7 L486.0,674.6 L487.2,667.3 L488.4,660.0 L489.7,652.6 L490.9,645.1 L492.1,637.6 L493.4,630.0 L494.6,622.4 L495.9,614.7 L497.1,607.0 L498.3,599.3 L499.6,591.5 L500.8,583.7 L502.0,575.9 L503.3,568.1 L504.5,560.3 L505.7,552.5 L507.0,544.7 L508.2,536.9 L509.4,529.1 L510.7,521.3 L511.9,513.6 L513.1,505.9 L514.4,498.2 L515.6,490.6 L516.9,483.0 L518.1,475.5 L519.3,468.1 L520.6,460.7 L521.8,453.4 L523.0,446.1 L524.3,439.0 L525.5,431.9 L526.7,424.9 L528.0,418.0 L529.2,411.2 L530.4,404.6 L531.7,398.0 L532.9,391.5 L534.2,385.2 L535.4,379.0 L536.6,372.9 L537.9,367.0 L539.1,361.1 L540.3,355.5 L541.6,350.0 L542.8,344.6 L544.0,339.4 L545.3,334.3 L546.5,329.4 L547.7,324.7 L549.0,320.1 L550.2,315.8 L551.4,311.6 L552.7,307.5 L553.9,303.7 L555.2,300.0 L556.4,296.6 L557.6,293.3 L558.9,290.2 L560.1,287.3 L561.3,284.6 L562.6,282.1 L563.8,279.9 L565.0,277.8 L566.3,275.9 L567.5,274.3 L568.7,272.8 L570.0,271.6 L571.2,270.6 L572.5,269.8 L573.7,269.2 L574.9,268.8 L576.2,268.7 L577.4,268.7 L578.6,269.0 L579.9,269.5 L581.1,270.3 L582.3,271.2 L583.6,272.4 L584.8,273.8 L586.0,275.4 L587.3,277.2 L588.5,279.3 L589.7,281.5 L591.0,284.0 L592.2,286.7 L593.5,289.6 L594.7,292.8 L595.9,296.1 L597.2,299.7 L598.4,303.4 L599.6,307.4 L600.9,311.6 L602.1,316.0 L603.3,320.5 L604.6,325.3 L605.8,330.3 L607.0,335.5 L608.3,340.8 L609.5,346.4 L610.8,352.1 L612.0,358.1 L613.2,364.2 L614.5,370.4 L615.7,376.9 L616.9,383.5 L618.2,390.3 L619.4,397.3 L620.6,404.4 L621.9,411.6 L623.1,419.0 L624.3,426.6 L625.6,434.3 L626.8,442.1 L628.0,450.1 L629.3,458.2 L630.5,466.4 L631.8,474.8 L633.0,483.2 L634.2,491.8 L635.5,500.5 L636.7,509.3 L637.9,518.1 L639.2,527.1 L640.4,536.1 L641.6,545.3 L642.9,554.5 L644.1,563.7 L645.3,573.1 L646.6,582.5 L647.8,591.9 L649.1,601.4 L650.3,610.9 L651.5,620.5 L652.8,630.1 L654.0,639.7 L655.2,649.4 L656.5,659.1 L657.7,668.7 L658.9,678.4 L660.2,688.1 L661.4,697.8 L662.6,707.4 L663.9,717.0 L665.1,726.7 L666.3,736.2 L667.6,745.8 L668.8,755.3 L670.1,764.7 L671.3,774.1 L672.5,783.5 L673.8,792.8 L675.0,802.0 L676.2,811.1 L677.5,820.2 L678.7,829.1 L679.9,838.0 L681.2,846.8 L682.4,855.5 L683.6,864.1 L684.9,872.5 L686.1,880.9 L687.4,889.1 L688.6,897.2 L689.8,905.2 L691.1,913.0 L692.3,920.7 L693.5,928.3 L694.8,935.7 L696.0,942.9 L697.2,950.0 L698.5,956.9 L699.7,963.7 L700.9,970.3 L702.2,976.7 L703.4,982.9 L704.7,989.0 L705.9,994.8 L707.1,1000.5 L708.4,1006.0 L709.6,1011.3 L710.8,1016.4 L712.1,1021.3 L713.3,1026.0 L714.5,1030.5 L715.8,1034.7 L717.0,1038.8 L718.2,1042.6 L719.5,1046.2 L720.7,1049.6 L721.9,1052.8 L723.2,1055.8 L724.4,1058.5 L725.7,1061.0 L726.9,1063.2 L728.1,1065.3 L729.4,1067.1 L730.6,1068.7 L731.8,1070.0 L733.1,1071.1 L734.3,1072.0 L735.5,1072.6 L736.8,1073.0 L738.0,1073.1 L739.2,1073.0 L740.5,1072.7 L741.7,1072.1 L743.0,1071.3 L744.2,1070.3 L745.4,1069.0 L746.7,1067.5 L747.9,1065.8 L749.1,1063.8 L750.4,1061.6 L751.6,1059.1 L752.8,1056.4 L754.1,1053.5 L755.3,1050.4 L756.5,1047.0 L757.8,1043.4 L759.0,1039.6 L760.2,1035.6 L761.5,1031.3 L762.7,1026.8 L764.0,1022.1 L765.2,1017.2 L766.4,1012.1 L767.7,1006.8 L768.9,1001.3 L770.1,995.6 L771.4,989.7 L772.6,983.6 L773.8,977.3 L775.1,970.8 L776.3,964.1 L777.5,957.3 L778.8,950.2 L780.0,943.0 L781.3,935.7 L782.5,928.2 L783.7,920.5 L785.0,912.6 L786.2,904.6 L787.4,896.5 L788.7,888.2 L789.9,879.8 L791.1,871.3 L792.4,862.6 L793.6,853.8 L794.8,844.9 L796.1,835.9 L797.3,826.8 L798.5,817.5 L799.8,808.2 L801.0,798.8 L802.3,789.3 L803.5,779.7 L804.7,770.0 L806.0,760.3 L807.2,750.5 L808.4,740.7 L809.7,730.8 L810.9,720.8 L812.1,710.8 L813.4,700.8 L814.6,690.7 L815.8,680.6 L817.1,670.5 L818.3,660.4 L819.6,650.3 L820.8,640.2 L822.0,630.1 L823.3,620.0 L824.5,609.9 L825.7,599.8 L827.0,589.8 L828.2,579.7 L829.4,569.8 L830.7,559.9 L831.9,550.0 L833.1,540.2 L834.4,530.4 L835.6,520.7 L836.8,511.1 L838.1,501.6 L839.3,492.1 L840.6,482.7 L841.8,473.5 L843.0,464.3 L844.3,455.2 L845.5,446.3 L846.7,437.4 L848.0,428.7 L849.2,420.1 L850.4,411.7 L851.7,403.3 L852.9,395.1 L854.1,387.1 L855.4,379.2 L856.6,371.5 L857.9,363.9 L859.1,356.5 L860.3,349.2 L861.6,342.1 L862.8,335.2 L864.0,328.5 L865.3,321.9 L866.5,315.6 L867.7,309.4 L869.0,303.4 L870.2,297.7 L871.4,292.1 L872.7,286.7 L873.9,281.5 L875.1,276.6 L876.4,271.9 L877.6,267.3 L878.9,263.0 L880.1,258.9 L881.3,255.1 L882.6,251.4 L883.8,248.0 L885.0,244.8 L886.3,241.9 L887.5,239.2 L888.7,236.7 L890.0,234.4 L891.2,232.4 L892.4,230.7 L893.7,229.1 L894.9,227.8 L896.2,226.8 L897.4,226.0 L898.6,225.4 L899.9,225.1 L901.1,225.0 L902.3,225.2 L903.6,225.6 L904.8,226.2 L906.0,227.1 L907.3,228.2 L908.5,229.6 L909.7,231.2 L911.0,233.1 L912.2,235.2 L913.4,237.5 L914.7,240.1 L915.9,242.9 L917.2,245.9 L918.4,249.2 L919.6,252.7 L920.9,256.4 L922.1,260.3 L923.3,264.5 L924.6,268.9 L925.8,273.5 L927.0,278.4 L928.3,283.4 L929.5,288.6 L930.7,294.1 L932.0,299.8 L933.2,305.6 L934.5,311.7 L935.7,317.9 L936.9,324.4 L938.2,331.0 L939.4,337.8 L940.6,344.8 L941.9,352.0 L943.1,359.3 L944.3,366.9 L945.6,374.5 L946.8,382.4 L948.0,390.3 L949.3,398.5 L950.5,406.8 L951.8,415.2 L953.0,423.7 L954.2,432.4 L955.5,441.2 L956.7,450.2 L957.9,459.2 L959.2,468.4 L960.4,477.6 L961.6,487.0 L962.9,496.5 L964.1,506.0 L965.3,515.6 L966.6,525.3 L967.8,535.1 L969.0,545.0 L970.3,554.9 L971.5,564.9 L972.8,574.9 L974.0,584.9 L975.2,595.0 L976.5,605.2 L977.7,615.3 L978.9,625.5 L980.2,635.7 L981.4,645.9 L982.6,656.1 L983.9,666.4 L985.1,676.6 L986.3,686.8 L987.6,696.9 L988.8,707.1 L990.1,717.2 L991.3,727.3 L992.5,737.3 L993.8,747.3 L995.0,757.2 L996.2,767.1 L997.5,776.9 L998.7,786.7 L999.9,796.3 L1001.2,805.9 L1002.4,815.4 L1003.6,824.8 L1004.9,834.1 L1006.1,843.3 L1007.3,852.4 L1008.6,861.4 L1009.8,870.3 L1011.1,879.0 L1012.3,887.6 L1013.5,896.1 L1014.8,904.4 L1016.0,912.6 L1017.2,920.7 L1018.5,928.6 L1019.7,936.3 L1020.9,943.9 L1022.2,951.3 L1023.4,958.5 L1024.6,965.6 L1025.9,972.5 L1027.1,979.2 L1028.4,985.7 L1029.6,992.0 L1030.8,998.2 L1032.1,1004.1 L1033.3,1009.8 L1034.5,1015.4 L1035.8,1020.7 L1037.0,1025.8 L1038.2,1030.7 L1039.5,1035.4 L1040.7,1039.9 L1041.9,1044.2 L1043.2,1048.2 L1044.4,1052.0 L1045.6,1055.6 L1046.9,1058.9 L1048.1,1062.0 L1049.4,1064.9 L1050.6,1067.6 L1051.8,1070.0 L1053.1,1072.2 L1054.3,1074.1 L1055.5,1075.8 L1056.8,1077.3 L1058.0,1078.5 L1059.2,1079.4 L1060.5,1080.2 L1061.7,1080.6 L1062.9,1080.9 L1064.2,1080.9 L1065.4,1080.6 L1066.7,1080.1 L1067.9,1079.4 L1069.1,1078.4 L1070.4,1077.2 L1071.6,1075.7 L1072.8,1074.0 L1074.1,1072.1 L1075.3,1069.9 L1076.5,1067.5 L1077.8,1064.8 L1079.0,1061.9 L1080.2,1058.8 L1081.5,1055.4 L1082.7,1051.9 L1083.9,1048.0 L1085.2,1044.0 L1086.4,1039.7 L1087.7,1035.2 L1088.9,1030.5 L1090.1,1025.6 L1091.4,1020.5 L1092.6,1015.2 L1093.8,1009.6 L1095.1,1003.9 L1096.3,997.9 L1097.5,991.8 L1098.8,985.4 L1100.0,978.9 L1101.2,972.2 L1102.5,965.3 L1103.7,958.2 L1105.0,950.9 L1106.2,943.5 L1107.4,935.9 L1108.7,928.2 L1109.9,920.3 L1111.1,912.2 L1112.4,904.0 L1113.6,895.6 L1114.8,887.2 L1116.1,878.5 L1117.3,869.8 L1118.5,860.9 L1119.8,851.9 L1121.0,842.8 L1122.2,833.6 L1123.5,824.3 L1124.7,814.8 L1126.0,805.3 L1127.2,795.7 L1128.4,786.0 L1129.7,776.3 L1130.9,766.5 L1132.1,756.6 L1133.4,746.6 L1134.6,736.6 L1135.8,726.6 L1137.1,716.5 L1138.3,706.3 L1139.5,696.2 L1140.8,686.0 L1142.0,675.8 L1143.3,665.5 L1144.5,655.3 L1145.7,645.1 L1147.0,634.9 L1148.2,624.6 L1149.4,614.4 L1150.7,604.3 L1151.9,594.1 L1153.1,584.0 L1154.4,573.9 L1155.6,563.9 L1156.8,553.9 L1158.1,544.0 L1159.3,534.1 L1160.5,524.3 L1161.8,514.6 L1163.0,504.9 L1164.3,495.4 L1165.5,485.9 L1166.7,476.5 L1168.0,467.2 L1169.2,458.1 L1170.4,449.0 L1171.7,440.0 L1172.9,431.2 L1174.1,422.5 L1175.4,413.9 L1176.6,405.5 L1177.8,397.2 L1179.1,389.1 L1180.3,381.1 L1181.6,373.2 L1182.8,365.5 L1184.0,358.0 L1185.3,350.7 L1186.5,343.5 L1187.7,336.5 L1189.0,329.7 L1190.2,323.0 L1191.4,316.6 L1192.7,310.3 L1193.9,304.2 L1195.1,298.4 L1196.4,292.7 L1197.6,287.2 L1198.8,282.0 L1200.1,277.0 L1201.3,272.1 L1202.6,267.5 L1203.8,263.1 L1205.0,258.9 L1206.3,255.0 L1207.5,251.3 L1208.7,247.8 L1210.0,244.5 L1211.2,241.5 L1212.4,238.7 L1213.7,236.2 L1214.9,233.8 L1216.1,231.7 L1217.4,229.9 L1218.6,228.3 L1219.9,226.9 L1221.1,225.8 L1222.3,225.0 L1223.6,224.3 L1224.8,223.9 L1226.0,223.8 L1227.3,223.9 L1228.5,224.2 L1229.7,224.8 L1231.0,225.7 L1232.2,226.7 L1233.4,228.1 L1234.7,229.6 L1235.9,231.4 L1237.2,233.5 L1238.4,235.7 L1239.6,238.3 L1240.9,241.0 L1242.1,244.0 L1243.3,247.2 L1244.6,250.7 L1245.8,254.4 L1247.0,258.3 L1248.3,262.4 L1249.5,266.8 L1250.7,271.3 L1252.0,276.1 L1253.2,281.1 L1254.4,286.3 L1255.7,291.8 L1256.9,297.4 L1258.2,303.2 L1259.4,309.3 L1260.6,315.5 L1261.9,321.9 L1263.1,328.5 L1264.3,335.3 L1265.6,342.3 L1266.8,349.5 L1268.0,356.8 L1269.3,364.3 L1270.5,371.9 L1271.7,379.8 L1273.0,387.7 L1274.2,395.9 L1275.5,404.1 L1276.7,412.5 L1277.9,421.1 L1279.2,429.8 L1280.4,438.6 L1281.6,447.5 L1282.9,456.5 L1284.1,465.7 L1285.3,475.0 L1286.6,484.3 L1287.8,493.8 L1289.0,503.3 L1290.3,513.0 L1291.5,522.7 L1292.7,532.5 L1294.0,542.3 L1295.2,552.3 L1296.5,562.2 L1297.7,572.3 L1298.9,582.3 L1300.2,592.5 L1301.4,602.6 L1302.6,612.8 L1303.9,623.0 L1305.1,633.2 L1306.3,643.4 L1307.6,653.7 L1308.8,663.9 L1310.0,674.1 L1311.3,684.3 L1312.5,694.5 L1313.8,704.7 L1315.0,714.8 L1316.2,724.9 L1317.5,735.0 L1318.7,745.0 L1319.9,755.0 L1321.2,764.9 L1322.4,774.7 L1323.6,784.5 L1324.9,794.2 L1326.1,803.8 L1327.3,813.4 L1328.6,822.8 L1329.8,832.1 L1331.0,841.4 L1332.3,850.5 L1333.5,859.5 L1334.8,868.4 L1336.0,877.2 L1337.2,885.9 L1338.5,894.4 L1339.7,902.7 L1340.9,911.0 L1342.2,919.1 L1343.4,927.0 L1344.6,934.8 L1345.9,942.4 L1347.1,949.9 L1348.3,957.1 L1349.6,964.2 L1350.8,971.2 L1352.1,977.9 L1353.3,984.5 L1354.5,990.9 L1355.8,997.1 L1357.0,1003.0 L1358.2,1008.8 L1359.5,1014.4 L1360.7,1019.8 L1361.9,1025.0 L1363.2,1029.9 L1364.4,1034.7 L1365.6,1039.2 L1366.9,1043.5 L1368.1,1047.6 L1369.3,1051.4 L1370.6,1055.0 L1371.8,1058.4 L1373.1,1061.6 L1374.3,1064.5 L1375.5,1067.2 L1376.8,1069.7 L1378.0,1071.9 L1379.2,1073.9 L1380.5,1075.6 L1381.7,1077.1 L1382.9,1078.4 L1384.2,1079.4 L1385.4,1080.2 L1386.6,1080.7 L1387.9,1081.0 L1389.1,1081.0 L1390.4,1080.8 L1391.6,1080.4 L1392.8,1079.7 L1394.1,1078.8 L1395.3,1077.6 L1396.5,1076.2 L1397.8,1074.5 L1399.0,1072.6 L1400.2,1070.5 L1401.5,1068.1 L1402.7,1065.5 L1403.9,1062.6 L1405.2,1059.5 L1406.4,1056.2 L1407.6,1052.7 L1408.9,1048.9 L1410.1,1044.9 L1411.4,1040.7 L1412.6,1036.2 L1413.8,1031.5 L1415.1,1026.7 L1416.3,1021.6 L1417.5,1016.3 L1418.8,1010.7 L1420.0,1005.0 L1421.2,999.1 L1422.5,993.0 L1423.7,986.7 L1424.9,980.2 L1426.2,973.5 L1427.4,966.6 L1428.7,959.6 L1429.9,952.4 L1431.1,945.0 L1432.4,937.4 L1433.6,929.7 L1434.8,921.8 L1436.1,913.7 L1437.3,905.6 L1438.5,897.2 L1439.8,888.8 L1441.0,880.2 L1442.2,871.4 L1443.5,862.6 L1444.7,853.6 L1446.0,844.5 L1447.2,835.3 L1448.4,826.0 L1449.7,816.6 L1450.9,807.1 L1452.1,797.5 L1453.4,787.8 L1454.6,778.1 L1455.8,768.3 L1457.1,758.4 L1458.3,748.4 L1459.5,738.4 L1460.8,728.4 L1462.0,718.3 L1463.2,708.1 L1464.5,698.0 L1465.7,687.8 L1467.0,677.6 L1468.2,667.4 L1469.4,657.1 L1470.7,646.9 L1471.9,636.7 L1473.1,626.4 L1474.4,616.2 L1475.6,606.1 L1476.8,595.9 L1478.1,585.8 L1479.3,575.7 L1480.5,565.6 L1481.8,555.6 L1483.0,545.7 L1484.3,535.8 L1485.5,526.0 L1486.7,516.3 L1488.0,506.6 L1489.2,497.0 L1490.4,487.5 L1491.7,478.1 L1492.9,468.8 L1494.1,459.6 L1495.4,450.5 L1496.6,441.6 L1497.8,432.7 L1499.1,424.0 L1500.3,415.4 L1501.5,406.9 L1502.8,398.6 L1504.0,390.5 L1505.3,382.4 L1506.5,374.6 L1507.7,366.8 L1509.0,359.3 L1510.2,351.9 L1511.4,344.7 L1512.7,337.7 L1513.9,330.8 L1515.1,324.1 L1516.4,317.7 L1517.6,311.4 L1518.8,305.3 L1520.1,299.4 L1521.3,293.6 L1522.6,288.2 L1523.8,282.9 L1525.0,277.8 L1526.3,272.9 L1527.5,268.3 L1528.7,263.8 L1530.0,259.6 L1531.2,255.6 L1532.4,251.9 L1533.7,248.4 L1534.9,245.1 L1536.1,242.0 L1537.4,239.2 L1538.6,236.6 L1539.8,234.2 L1541.1,232.1 L1542.3,230.2 L1543.6,228.5 L1544.8,227.1 L1546.0,226.0 L1547.3,225.1 L1548.5,224.4 L1549.7,224.0 L1551.0,223.8 L1552.2,223.9 L1553.4,224.2 L1554.7,224.7 L1555.9,225.5 L1557.1,226.5 L1558.4,227.8 L1559.6,229.3 L1560.9,231.1 L1562.1,233.1 L1563.3,235.3 L1564.6,237.8 L1565.8,240.5 L1567.0,243.5 L1568.3,246.7 L1569.5,250.1" stroke="#c500d2" stroke-linecap="round" stroke-dasharray="18 16.5 3.3 16.5 3.3 16.9"/>
<path d="M334.0,652.7 L335.2,643.3 L336.5,634.1 L337.7,625.2 L338.9,616.5 L340.2,608.0 L341.4,599.8 L342.6,591.9 L343.9,584.2 L345.1,576.8 L346.4,569.6 L347.6,562.7 L348.8,556.1 L350.1,549.8 L351.3,543.7 L352.5,537.9 L353.8,532.4 L355.0,527.2 L356.2,522.3 L357.5,517.7 L358.7,513.3 L359.9,509.3 L361.2,505.5 L362.4,502.0 L363.7,498.8 L364.9,495.9 L366.1,493.3 L367.4,490.9 L368.6,488.9 L369.8,487.1 L371.1,485.7 L372.3,484.5 L373.5,483.5 L374.8,482.9 L376.0,482.5 L377.2,482.5 L378.5,482.6 L379.7,483.1 L380.9,483.8 L382.2,484.8 L383.4,486.0 L384.7,487.5 L385.9,489.3 L387.1,491.3 L388.4,493.5 L389.6,496.0 L390.8,498.7 L392.1,501.6 L393.3,504.8 L394.5,508.1 L395.8,511.7 L397.0,515.5 L398.2,519.5 L399.5,523.7 L400.7,528.1 L402.0,532.7 L403.2,537.5 L404.4,542.4 L405.7,547.6 L406.9,552.8 L408.1,558.3 L409.4,563.9 L410.6,569.6 L411.8,575.5 L413.1,581.5 L414.3,587.6 L415.5,593.9 L416.8,600.2 L418.0,606.7 L419.2,613.3 L420.5,620.0 L421.7,626.7 L423.0,633.6 L424.2,640.5 L425.4,647.4 L426.7,654.5 L427.9,661.6 L429.1,668.7 L430.4,675.9 L431.6,683.1 L432.8,690.3 L434.1,697.6 L435.3,704.9 L436.5,712.1 L437.8,719.4 L439.0,726.7 L440.3,733.9 L441.5,741.2 L442.7,748.4 L444.0,755.6 L445.2,762.7 L446.4,769.8 L447.7,776.8 L448.9,783.8 L450.1,790.7 L451.4,797.6 L452.6,804.3 L453.8,811.0 L455.1,817.6 L456.3,824.1 L457.6,830.6 L458.8,836.9 L460.0,843.1 L461.3,849.2 L462.5,855.1 L463.7,861.0 L465.0,866.7 L466.2,872.3 L467.4,877.7 L468.7,883.0 L469.9,888.1 L471.1,893.1 L472.4,898.0 L473.6,902.7 L474.8,907.2 L476.1,911.5 L477.3,915.7 L478.6,919.7 L479.8,923.5 L481.0,927.2 L482.3,930.6 L483.5,933.9 L484.7,937.0 L486.0,939.9 L487.2,942.5 L488.4,945.0 L489.7,947.3 L490.9,949.4 L492.1,951.3 L493.4,953.0 L494.6,954.5 L495.9,955.7 L497.1,956.8 L498.3,957.6 L499.6,958.3 L500.8,958.7 L502.0,958.9 L503.3,958.9 L504.5,958.7 L505.7,958.2 L507.0,957.6 L508.2,956.7 L509.4,955.6 L510.7,954.4 L511.9,952.9 L513.1,951.1 L514.4,949.2 L515.6,947.1 L516.9,944.7 L518.1,942.2 L519.3,939.4 L520.6,936.5 L521.8,933.3 L523.0,929.9 L524.3,926.4 L525.5,922.6 L526.7,918.6 L528.0,914.5 L529.2,910.2 L530.4,905.6 L531.7,900.9 L532.9,896.0 L534.2,891.0 L535.4,885.7 L536.6,880.3 L537.9,874.7 L539.1,869.0 L540.3,863.1 L541.6,857.0 L542.8,850.8 L544.0,844.4 L545.3,837.9 L546.5,831.2 L547.7,824.5 L549.0,817.5 L550.2,810.5 L551.4,803.3 L552.7,796.0 L553.9,788.6 L555.2,781.1 L556.4,773.4 L557.6,765.7 L558.9,757.9 L560.1,750.0 L561.3,742.0 L562.6,733.9 L563.8,725.7 L565.0,717.5 L566.3,709.2 L567.5,700.9 L568.7,692.5 L570.0,684.0 L571.2,675.5 L572.5,667.0 L573.7,658.4 L574.9,649.8 L576.2,641.2 L577.4,632.6 L578.6,623.9 L579.9,615.3 L581.1,606.6 L582.3,598.0 L583.6,589.3 L584.8,580.7 L586.0,572.1 L587.3,563.6 L588.5,555.0 L589.7,546.5 L591.0,538.1 L592.2,529.7 L593.5,521.3 L594.7,513.0 L595.9,504.8 L597.2,496.7 L598.4,488.6 L599.6,480.6 L600.9,472.7 L602.1,464.9 L603.3,457.1 L604.6,449.5 L605.8,442.0 L607.0,434.6 L608.3,427.3 L609.5,420.1 L610.8,413.1 L612.0,406.1 L613.2,399.3 L614.5,392.7 L615.7,386.2 L616.9,379.8 L618.2,373.6 L619.4,367.5 L620.6,361.6 L621.9,355.9 L623.1,350.3 L624.3,344.9 L625.6,339.7 L626.8,334.6 L628.0,329.7 L629.3,325.0 L630.5,320.5 L631.8,316.2 L633.0,312.1 L634.2,308.1 L635.5,304.4 L636.7,300.8 L637.9,297.5 L639.2,294.3 L640.4,291.4 L641.6,288.7 L642.9,286.2 L644.1,283.8 L645.3,281.7 L646.6,279.9 L647.8,278.2 L649.1,276.7 L650.3,275.5 L651.5,274.5 L652.8,273.7 L654.0,273.1 L655.2,272.7 L656.5,272.6 L657.7,272.7 L658.9,273.0 L660.2,273.5 L661.4,274.3 L662.6,275.2 L663.9,276.4 L665.1,277.8 L666.3,279.5 L667.6,281.3 L668.8,283.4 L670.1,285.6 L671.3,288.1 L672.5,290.8 L673.8,293.8 L675.0,296.9 L676.2,300.2 L677.5,303.8 L678.7,307.5 L679.9,311.5 L681.2,315.7 L682.4,320.0 L683.6,324.6 L684.9,329.3 L686.1,334.3 L687.4,339.4 L688.6,344.7 L689.8,350.2 L691.1,355.9 L692.3,361.7 L693.5,367.7 L694.8,373.9 L696.0,380.3 L697.2,386.8 L698.5,393.5 L699.7,400.3 L700.9,407.3 L702.2,414.5 L703.4,421.8 L704.7,429.2 L705.9,436.7 L707.1,444.4 L708.4,452.2 L709.6,460.1 L710.8,468.2 L712.1,476.3 L713.3,484.6 L714.5,493.0 L715.8,501.4 L717.0,510.0 L718.2,518.6 L719.5,527.4 L720.7,536.2 L721.9,545.1 L723.2,554.0 L724.4,563.0 L725.7,572.1 L726.9,581.2 L728.1,590.4 L729.4,599.6 L730.6,608.8 L731.8,618.1 L733.1,627.4 L734.3,636.7 L735.5,646.0 L736.8,655.4 L738.0,664.7 L739.2,674.1 L740.5,683.4 L741.7,692.7 L743.0,702.1 L744.2,711.3 L745.4,720.6 L746.7,729.8 L747.9,739.0 L749.1,748.1 L750.4,757.2 L751.6,766.3 L752.8,775.2 L754.1,784.1 L755.3,793.0 L756.5,801.7 L757.8,810.4 L759.0,819.0 L760.2,827.5 L761.5,835.9 L762.7,844.2 L764.0,852.4 L765.2,860.5 L766.4,868.5 L767.7,876.3 L768.9,884.0 L770.1,891.6 L771.4,899.1 L772.6,906.4 L773.8,913.6 L775.1,920.6 L776.3,927.5 L777.5,934.3 L778.8,940.8 L780.0,947.2 L781.3,953.5 L782.5,959.6 L783.7,965.5 L785.0,971.2 L786.2,976.7 L787.4,982.1 L788.7,987.3 L789.9,992.3 L791.1,997.0 L792.4,1001.6 L793.6,1006.0 L794.8,1010.2 L796.1,1014.2 L797.3,1018.0 L798.5,1021.6 L799.8,1025.0 L801.0,1028.1 L802.3,1031.1 L803.5,1033.8 L804.7,1036.3 L806.0,1038.6 L807.2,1040.7 L808.4,1042.6 L809.7,1044.2 L810.9,1045.6 L812.1,1046.8 L813.4,1047.8 L814.6,1048.5 L815.8,1049.0 L817.1,1049.3 L818.3,1049.4 L819.6,1049.2 L820.8,1048.8 L822.0,1048.2 L823.3,1047.3 L824.5,1046.2 L825.7,1044.9 L827.0,1043.4 L828.2,1041.7 L829.4,1039.7 L830.7,1037.5 L831.9,1035.1 L833.1,1032.5 L834.4,1029.6 L835.6,1026.6 L836.8,1023.3 L838.1,1019.8 L839.3,1016.1 L840.6,1012.2 L841.8,1008.1 L843.0,1003.7 L844.3,999.2 L845.5,994.5 L846.7,989.6 L848.0,984.5 L849.2,979.2 L850.4,973.7 L851.7,968.0 L852.9,962.2 L854.1,956.1 L855.4,949.9 L856.6,943.6 L857.9,937.0 L859.1,930.3 L860.3,923.4 L861.6,916.4 L862.8,909.2 L864.0,901.9 L865.3,894.5 L866.5,886.8 L867.7,879.1 L869.0,871.2 L870.2,863.2 L871.4,855.1 L872.7,846.9 L873.9,838.5 L875.1,830.1 L876.4,821.5 L877.6,812.9 L878.9,804.1 L880.1,795.3 L881.3,786.4 L882.6,777.4 L883.8,768.3 L885.0,759.2 L886.3,750.0 L887.5,740.7 L888.7,731.4 L890.0,722.0 L891.2,712.6 L892.4,703.2 L893.7,693.7 L894.9,684.3 L896.2,674.8 L897.4,665.2 L898.6,655.7 L899.9,646.2 L901.1,636.6 L902.3,627.1 L903.6,617.6 L904.8,608.1 L906.0,598.6 L907.3,589.2 L908.5,579.8 L909.7,570.4 L911.0,561.1 L912.2,551.9 L913.4,542.7 L914.7,533.5 L915.9,524.4 L917.2,515.4 L918.4,506.5 L919.6,497.6 L920.9,488.9 L922.1,480.2 L923.3,471.6 L924.6,463.2 L925.8,454.8 L927.0,446.5 L928.3,438.4 L929.5,430.4 L930.7,422.5 L932.0,414.7 L933.2,407.1 L934.5,399.6 L935.7,392.3 L936.9,385.1 L938.2,378.0 L939.4,371.1 L940.6,364.4 L941.9,357.9 L943.1,351.5 L944.3,345.2 L945.6,339.2 L946.8,333.3 L948.0,327.6 L949.3,322.1 L950.5,316.8 L951.8,311.6 L953.0,306.7 L954.2,302.0 L955.5,297.4 L956.7,293.1 L957.9,289.0 L959.2,285.0 L960.4,281.3 L961.6,277.8 L962.9,274.5 L964.1,271.4 L965.3,268.6 L966.6,265.9 L967.8,263.5 L969.0,261.3 L970.3,259.3 L971.5,257.6 L972.8,256.0 L974.0,254.7 L975.2,253.6 L976.5,252.8 L977.7,252.2 L978.9,251.8 L980.2,251.6 L981.4,251.6 L982.6,251.9 L983.9,252.4 L985.1,253.2 L986.3,254.2 L987.6,255.4 L988.8,256.8 L990.1,258.4 L991.3,260.3 L992.5,262.4 L993.8,264.7 L995.0,267.3 L996.2,270.0 L997.5,273.0 L998.7,276.2 L999.9,279.6 L1001.2,283.2 L1002.4,287.0 L1003.6,291.1 L1004.9,295.3 L1006.1,299.8 L1007.3,304.4 L1008.6,309.3 L1009.8,314.3 L1011.1,319.6 L1012.3,325.0 L1013.5,330.6 L1014.8,336.4 L1016.0,342.4 L1017.2,348.5 L1018.5,354.9 L1019.7,361.4 L1020.9,368.0 L1022.2,374.8 L1023.4,381.8 L1024.6,389.0 L1025.9,396.2 L1027.1,403.7 L1028.4,411.3 L1029.6,419.0 L1030.8,426.8 L1032.1,434.8 L1033.3,442.9 L1034.5,451.1 L1035.8,459.4 L1037.0,467.9 L1038.2,476.4 L1039.5,485.1 L1040.7,493.8 L1041.9,502.7 L1043.2,511.6 L1044.4,520.6 L1045.6,529.7 L1046.9,538.8 L1048.1,548.0 L1049.4,557.3 L1050.6,566.6 L1051.8,576.0 L1053.1,585.4 L1054.3,594.9 L1055.5,604.4 L1056.8,613.9 L1058.0,623.4 L1059.2,633.0 L1060.5,642.6 L1061.7,652.1 L1062.9,661.7 L1064.2,671.3 L1065.4,680.8 L1066.7,690.4 L1067.9,699.9 L1069.1,709.4 L1070.4,718.9 L1071.6,728.3 L1072.8,737.7 L1074.1,747.0 L1075.3,756.3 L1076.5,765.5 L1077.8,774.6 L1079.0,783.7 L1080.2,792.7 L1081.5,801.7 L1082.7,810.5 L1083.9,819.3 L1085.2,827.9 L1086.4,836.5 L1087.7,844.9 L1088.9,853.3 L1090.1,861.5 L1091.4,869.6 L1092.6,877.6 L1093.8,885.5 L1095.1,893.2 L1096.3,900.8 L1097.5,908.3 L1098.8,915.6 L1100.0,922.7 L1101.2,929.7 L1102.5,936.6 L1103.7,943.2 L1105.0,949.8 L1106.2,956.1 L1107.4,962.3 L1108.7,968.3 L1109.9,974.1 L1111.1,979.7 L1112.4,985.2 L1113.6,990.4 L1114.8,995.5 L1116.1,1000.3 L1117.3,1005.0 L1118.5,1009.5 L1119.8,1013.7 L1121.0,1017.8 L1122.2,1021.7 L1123.5,1025.3 L1124.7,1028.7 L1126.0,1031.9 L1127.2,1034.9 L1128.4,1037.7 L1129.7,1040.3 L1130.9,1042.6 L1132.1,1044.7 L1133.4,1046.6 L1134.6,1048.3 L1135.8,1049.7 L1137.1,1050.9 L1138.3,1051.9 L1139.5,1052.7 L1140.8,1053.2 L1142.0,1053.5 L1143.3,1053.6 L1144.5,1053.4 L1145.7,1053.1 L1147.0,1052.4 L1148.2,1051.6 L1149.4,1050.5 L1150.7,1049.2 L1151.9,1047.7 L1153.1,1046.0 L1154.4,1044.0 L1155.6,1041.8 L1156.8,1039.4 L1158.1,1036.8 L1159.3,1033.9 L1160.5,1030.8 L1161.8,1027.6 L1163.0,1024.1 L1164.3,1020.3 L1165.5,1016.4 L1166.7,1012.3 L1168.0,1007.9 L1169.2,1003.4 L1170.4,998.7 L1171.7,993.7 L1172.9,988.6 L1174.1,983.3 L1175.4,977.8 L1176.6,972.1 L1177.8,966.2 L1179.1,960.1 L1180.3,953.9 L1181.6,947.5 L1182.8,940.9 L1184.0,934.2 L1185.3,927.3 L1186.5,920.2 L1187.7,913.0 L1189.0,905.6 L1190.2,898.1 L1191.4,890.5 L1192.7,882.7 L1193.9,874.8 L1195.1,866.8 L1196.4,858.6 L1197.6,850.3 L1198.8,841.9 L1200.1,833.4 L1201.3,824.8 L1202.6,816.1 L1203.8,807.3 L1205.0,798.5 L1206.3,789.5 L1207.5,780.5 L1208.7,771.3 L1210.0,762.2 L1211.2,752.9 L1212.4,743.6 L1213.7,734.2 L1214.9,724.8 L1216.1,715.4 L1217.4,705.9 L1218.6,696.4 L1219.9,686.9 L1221.1,677.3 L1222.3,667.7 L1223.6,658.2 L1224.8,648.6 L1226.0,639.0 L1227.3,629.4 L1228.5,619.9 L1229.7,610.3 L1231.0,600.8 L1232.2,591.3 L1233.4,581.9 L1234.7,572.4 L1235.9,563.1 L1237.2,553.8 L1238.4,544.5 L1239.6,535.3 L1240.9,526.2 L1242.1,517.1 L1243.3,508.1 L1244.6,499.2 L1245.8,490.4 L1247.0,481.7 L1248.3,473.0 L1249.5,464.5 L1250.7,456.1 L1252.0,447.8 L1253.2,439.6 L1254.4,431.5 L1255.7,423.6 L1256.9,415.8 L1258.2,408.1 L1259.4,400.6 L1260.6,393.2 L1261.9,385.9 L1263.1,378.8 L1264.3,371.9 L1265.6,365.1 L1266.8,358.5 L1268.0,352.0 L1269.3,345.8 L1270.5,339.7 L1271.7,333.7 L1273.0,328.0 L1274.2,322.4 L1275.5,317.1 L1276.7,311.9 L1277.9,306.9 L1279.2,302.1 L1280.4,297.5 L1281.6,293.1 L1282.9,289.0 L1284.1,285.0 L1285.3,281.2 L1286.6,277.7 L1287.8,274.3 L1289.0,271.2 L1290.3,268.3 L1291.5,265.6 L1292.7,263.1 L1294.0,260.9 L1295.2,258.9 L1296.5,257.1 L1297.7,255.5 L1298.9,254.1 L1300.2,253.0 L1301.4,252.1 L1302.6,251.5 L1303.9,251.0 L1305.1,250.8 L1306.3,250.8 L1307.6,251.1 L1308.8,251.6 L1310.0,252.3 L1311.3,253.2 L1312.5,254.4 L1313.8,255.8 L1315.0,257.4 L1316.2,259.2 L1317.5,261.3 L1318.7,263.6 L1319.9,266.1 L1321.2,268.8 L1322.4,271.7 L1323.6,274.9 L1324.9,278.3 L1326.1,281.9 L1327.3,285.7 L1328.6,289.7 L1329.8,293.9 L1331.0,298.3 L1332.3,303.0 L1333.5,307.8 L1334.8,312.8 L1336.0,318.0 L1337.2,323.4 L1338.5,329.0 L1339.7,334.8 L1340.9,340.7 L1342.2,346.9 L1343.4,353.2 L1344.6,359.7 L1345.9,366.3 L1347.1,373.1 L1348.3,380.1 L1349.6,387.2 L1350.8,394.5 L1352.1,401.9 L1353.3,409.5 L1354.5,417.2 L1355.8,425.0 L1357.0,433.0 L1358.2,441.1 L1359.5,449.3 L1360.7,457.6 L1361.9,466.0 L1363.2,474.6 L1364.4,483.2 L1365.6,492.0 L1366.9,500.8 L1368.1,509.7 L1369.3,518.7 L1370.6,527.8 L1371.8,536.9 L1373.1,546.2 L1374.3,555.4 L1375.5,564.8 L1376.8,574.1 L1378.0,583.6 L1379.2,593.0 L1380.5,602.5 L1381.7,612.0 L1382.9,621.6 L1384.2,631.2 L1385.4,640.7 L1386.6,650.3 L1387.9,659.9 L1389.1,669.5 L1390.4,679.1 L1391.6,688.6 L1392.8,698.1 L1394.1,707.7 L1395.3,717.1 L1396.5,726.6 L1397.8,736.0 L1399.0,745.3 L1400.2,754.6 L1401.5,763.9 L1402.7,773.0 L1403.9,782.1 L1405.2,791.2 L1406.4,800.1 L1407.6,809.0 L1408.9,817.8 L1410.1,826.5 L1411.4,835.0 L1412.6,843.5 L1413.8,851.9 L1415.1,860.2 L1416.3,868.3 L1417.5,876.3 L1418.8,884.2 L1420.0,892.0 L1421.2,899.6 L1422.5,907.1 L1423.7,914.4 L1424.9,921.6 L1426.2,928.6 L1427.4,935.5 L1428.7,942.2 L1429.9,948.7 L1431.1,955.1 L1432.4,961.3 L1433.6,967.4 L1434.8,973.2 L1436.1,978.9 L1437.3,984.3 L1438.5,989.6 L1439.8,994.7 L1441.0,999.6 L1442.2,1004.3 L1443.5,1008.9 L1444.7,1013.2 L1446.0,1017.3 L1447.2,1021.1 L1448.4,1024.8 L1449.7,1028.3 L1450.9,1031.5 L1452.1,1034.6 L1453.4,1037.4 L1454.6,1040.0 L1455.8,1042.4 L1457.1,1044.5 L1458.3,1046.4 L1459.5,1048.1 L1460.8,1049.6 L1462.0,1050.9 L1463.2,1051.9 L1464.5,1052.7 L1465.7,1053.3 L1467.0,1053.6 L1468.2,1053.7 L1469.4,1053.6 L1470.7,1053.3 L1471.9,1052.7 L1473.1,1051.9 L1474.4,1050.9 L1475.6,1049.6 L1476.8,1048.1 L1478.1,1046.4 L1479.3,1044.5 L1480.5,1042.3 L1481.8,1039.9 L1483.0,1037.3 L1484.3,1034.5 L1485.5,1031.5 L1486.7,1028.2 L1488.0,1024.8 L1489.2,1021.1 L1490.4,1017.2 L1491.7,1013.1 L1492.9,1008.8 L1494.1,1004.3 L1495.4,999.6 L1496.6,994.7 L1497.8,989.6 L1499.1,984.3 L1500.3,978.8 L1501.5,973.1 L1502.8,967.3 L1504.0,961.2 L1505.3,955.0 L1506.5,948.6 L1507.7,942.1 L1509.0,935.4 L1510.2,928.5 L1511.4,921.5 L1512.7,914.3 L1513.9,906.9 L1515.1,899.5 L1516.4,891.8 L1517.6,884.1 L1518.8,876.2 L1520.1,868.2 L1521.3,860.0 L1522.6,851.8 L1523.8,843.4 L1525.0,834.9 L1526.3,826.3 L1527.5,817.6 L1528.7,808.9 L1530.0,800.0 L1531.2,791.0 L1532.4,782.0 L1533.7,772.9 L1534.9,763.7 L1536.1,754.5 L1537.4,745.2 L1538.6,735.8 L1539.8,726.4 L1541.1,717.0 L1542.3,707.5 L1543.6,698.0 L1544.8,688.5 L1546.0,678.9 L1547.3,669.3 L1548.5,659.8 L1549.7,650.2 L1551.0,640.6 L1552.2,631.0 L1553.4,621.4 L1554.7,611.9 L1555.9,602.4 L1557.1,592.9 L1558.4,583.4 L1559.6,574.0 L1560.9,564.6 L1562.1,555.3 L1563.3,546.0 L1564.6,536.8 L1565.8,527.6 L1567.0,518.6 L1568.3,509.6 L1569.5,500.7" stroke="#00e000" stroke-linecap="round" stroke-dasharray="8.5 14"/>
</g>
<g stroke="#000" stroke-width="3.6" fill="none">
<rect x="334.0" y="27.0" width="1235.5" height="1233.6"/>
<path d="M334.0 1260.6V1277.6M334.0 27.0V44.0M457.6 1260.6V1269.1M457.6 27.0V35.5M581.1 1260.6V1269.1M581.1 27.0V35.5M704.7 1260.6V1269.1M704.7 27.0V35.5M828.2 1260.6V1269.1M828.2 27.0V35.5M951.8 1260.6V1277.6M951.8 27.0V44.0M1075.3 1260.6V1269.1M1075.3 27.0V35.5M1198.8 1260.6V1269.1M1198.8 27.0V35.5M1322.4 1260.6V1269.1M1322.4 27.0V35.5M1446.0 1260.6V1269.1M1446.0 27.0V35.5M1569.5 1260.6V1277.6M1569.5 27.0V44.0M334.0 1260.6H325.5M1569.5 1260.6H1561.0M334.0 1166.0H325.5M1569.5 1166.0H1561.0M334.0 1071.0H317.0M1569.5 1071.0H1552.5M334.0 976.0H325.5M1569.5 976.0H1561.0M334.0 881.0H325.5M1569.5 881.0H1561.0M334.0 786.0H325.5M1569.5 786.0H1561.0M334.0 691.0H317.0M1569.5 691.0H1552.5M334.0 596.0H325.5M1569.5 596.0H1561.0M334.0 501.0H325.5M1569.5 501.0H1561.0M334.0 406.0H325.5M1569.5 406.0H1561.0M334.0 311.0H317.0M1569.5 311.0H1552.5M334.0 216.0H325.5M1569.5 216.0H1561.0M334.0 121.0H325.5M1569.5 121.0H1561.0M334.0 27.0H325.5M1569.5 27.0H1561.0"/>
</g>
<rect x="343" y="62.8" width="1217" height="115.2" fill="#fff" stroke="#000" stroke-width="3.4"/>
<path d="M357.6 92.5H462.1" stroke="#000" stroke-width="5.3"/>
<path d="M360.5 146.9H460" stroke="#ff3333" stroke-width="5.3" stroke-linecap="round" stroke-dasharray="15 12.1 0.1 12.1"/>
<path d="M758.6 147H860" stroke="#c500d2" stroke-width="5.5" stroke-linecap="round" stroke-dasharray="18.5 16.6 3.3 16.6 3.3 16.9"/>
<path d="M1161.6 147H1262" stroke="#00e000" stroke-width="5.4" stroke-linecap="round" stroke-dasharray="8.2 14.2"/>
<g font-family="Liberation Sans, Arial, sans-serif" font-size="45" fill="#000">
<text transform="translate(483.3 107.8) scale(1 1.02)">Input</text>
<text transform="translate(483.2 162) scale(1 1.02)">LP response</text>
<text transform="translate(881.4 162.6) scale(1 1.02)">BP response</text>
<text transform="translate(1284.6 162.2) scale(1 1.02)">HP response</text>
</g>
<g font-family="Liberation Sans, Arial, sans-serif" font-size="70.8" fill="#000">
<text transform="translate(306 333.1) scale(1 1.035)" text-anchor="end">100m</text>
<text transform="translate(305.5 713.0) scale(1 1.045)" text-anchor="end">0</text>
<text transform="translate(306 1091.6) scale(1 1.035)" text-anchor="end">-100m</text>
<text transform="translate(334 1344.6) scale(1 1.03)" text-anchor="middle">0</text>
<text transform="translate(951 1344) scale(1 1.015)" text-anchor="middle">250n</text>
<text transform="translate(1569 1344) scale(1 1.01)" text-anchor="middle">500n</text>
</g>
<g font-family="Liberation Sans, Arial, sans-serif" font-size="71.2" font-weight="bold" fill="#000">
<text transform="translate(950.5 1455.2) scale(1 1.035)" text-anchor="middle">Time (s)</text>
<text transform="translate(81 642.7) rotate(-90) scale(1 1.035)" text-anchor="middle">Input/Output Voltage (V)</text>
</g>
</svg>
</body></html>
